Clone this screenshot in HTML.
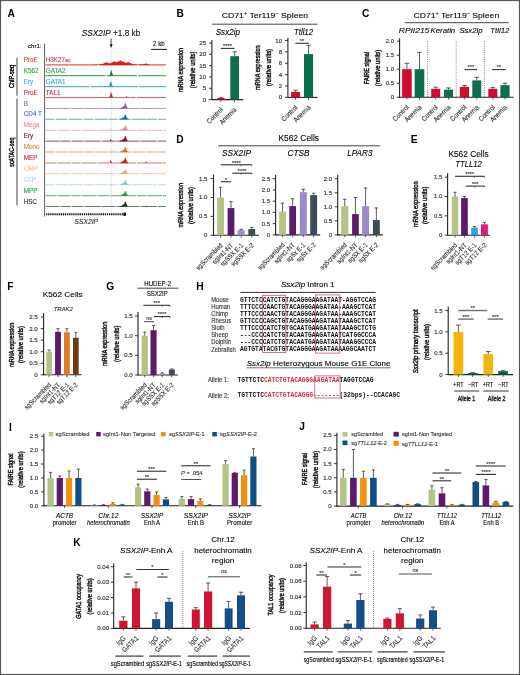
<!DOCTYPE html>
<html><head><meta charset="utf-8"><style>
html,body{margin:0;padding:0;background:#fff;}
svg{display:block;font-family:"Liberation Sans",sans-serif;filter:blur(0.35px);}
</style></head><body>
<svg width="520" height="675" viewBox="0 0 520 675">
<rect x="0" y="0" width="520" height="675" fill="#fff"/>
<text x="7.50" y="17.00" font-weight="bold" fill="#000" font-size="10.2" >A</text>
<text x="81.80" y="36.00" stroke="#111" stroke-width="0.12" fill="#111" font-size="8.2" textLength="58.50" lengthAdjust="spacingAndGlyphs" ><tspan font-style="italic">SSX2IP</tspan> +1.8 kb</text>
<line x1="111.10" y1="38.50" x2="111.10" y2="45.50" stroke="#111" stroke-width="0.8" />
<polygon points="109.6,44.3 112.6,44.3 111.1,48" fill="#111"/>
<text x="153.00" y="46.30" stroke="#111" stroke-width="0.12" fill="#111" font-size="6.4" textLength="11.70" lengthAdjust="spacingAndGlyphs" >2 kb</text>
<line x1="151.00" y1="49.40" x2="167.00" y2="49.40" stroke="#111" stroke-width="1.0" />
<text x="28.00" y="48.46" stroke="#222" stroke-width="0.12" font-size="6.0" textLength="13.50" lengthAdjust="spacingAndGlyphs" >chr1:</text>
<line x1="44.60" y1="43.50" x2="44.60" y2="216.50" stroke="#333" stroke-width="0.8" />
<line x1="17.00" y1="57.70" x2="17.00" y2="95.70" stroke="#777" stroke-width="1.4" />
<line x1="17.00" y1="98.40" x2="17.00" y2="205.20" stroke="#777" stroke-width="1.4" />
<text x="0" y="0" stroke="#111" stroke-width="0.45" text-anchor="middle" fill="#111" font-size="7.6" textLength="23.00" lengthAdjust="spacingAndGlyphs" transform="translate(13.70,76.50) rotate(-90)" >ChIP-seq</text>
<text x="0" y="0" stroke="#111" stroke-width="0.45" text-anchor="middle" fill="#111" font-size="7.6" textLength="29.10" lengthAdjust="spacingAndGlyphs" transform="translate(14.40,152.20) rotate(-90)" >scATAC-seq</text>
<text x="23.80" y="61.90" stroke="#d6383a" stroke-width="0.12" fill="#d6383a" font-size="6.3" >ProE</text>
<text x="45.80" y="62.10" stroke="#d6383a" stroke-width="0.12" fill="#d6383a" font-size="6.3" >H3K27<tspan font-size="5.2">ac</tspan></text>
<line x1="45.50" y1="64.80" x2="166.00" y2="64.80" stroke="#d8201e" stroke-width="1.2" stroke-dasharray="52 1.6 38 1.4 40" opacity="0.75"/>
<text x="23.80" y="72.80" stroke="#3a9a4a" stroke-width="0.12" fill="#3a9a4a" font-size="6.3" >K562</text>
<text x="45.80" y="73.00" stroke="#3a9a4a" stroke-width="0.12" fill="#3a9a4a" font-size="6.3" >GATA2</text>
<line x1="45.50" y1="75.70" x2="166.00" y2="75.70" stroke="#1e8e3e" stroke-width="1.2" stroke-dasharray="60 1.4 30 1.3 40" opacity="0.75"/>
<text x="23.80" y="83.70" stroke="#35a8dc" stroke-width="0.12" fill="#35a8dc" font-size="6.3" >Ery</text>
<text x="45.80" y="83.90" stroke="#35a8dc" stroke-width="0.12" fill="#35a8dc" font-size="6.3" >GATA1</text>
<line x1="45.50" y1="86.60" x2="166.00" y2="86.60" stroke="#22a0d4" stroke-width="1.2" stroke-dasharray="44 1.5 47 1.2 40" opacity="0.75"/>
<text x="23.80" y="94.60" stroke="#c8323a" stroke-width="0.12" fill="#c8323a" font-size="6.3" >ProE</text>
<text x="45.80" y="94.80" stroke="#c8323a" stroke-width="0.12" fill="#c8323a" font-size="6.3" >TAL1</text>
<line x1="45.50" y1="97.50" x2="166.00" y2="97.50" stroke="#cc2a30" stroke-width="1.2" stroke-dasharray="90 1.4 40" opacity="0.75"/>
<text x="23.80" y="105.50" stroke="#8a6a8e" stroke-width="0.12" fill="#8a6a8e" font-size="6.3" >B</text>
<line x1="45.50" y1="108.40" x2="166.00" y2="108.40" stroke="#9060a4" stroke-width="1.05" stroke-dasharray="14 0.9 10 1.2 12 1.0 16 1.1" opacity="0.65"/>
<text x="23.80" y="116.40" stroke="#2a7ab4" stroke-width="0.12" fill="#2a7ab4" font-size="6.3" >CD4 T</text>
<line x1="45.50" y1="119.30" x2="166.00" y2="119.30" stroke="#1a70b8" stroke-width="1.05" stroke-dasharray="9 1.1 12 0.9 14 1.2 10 1.0 13 1.1" opacity="0.65"/>
<text x="23.80" y="127.30" stroke="#e88aa6" stroke-width="0.12" fill="#e88aa6" font-size="6.3" >Mega</text>
<line x1="45.50" y1="130.20" x2="166.00" y2="130.20" stroke="#e28aa8" stroke-width="1.05" stroke-dasharray="11 1.1 13 1.0 9 1.2 15 0.9 12 1.1" opacity="0.65"/>
<text x="23.80" y="138.20" stroke="#5a2238" stroke-width="0.12" fill="#5a2238" font-size="6.3" >Ery</text>
<line x1="45.50" y1="141.10" x2="166.00" y2="141.10" stroke="#8a1040" stroke-width="1.05" stroke-dasharray="14 0.9 10 1.2 12 1.0 16 1.1" opacity="0.65"/>
<text x="23.80" y="149.10" stroke="#e8883a" stroke-width="0.12" fill="#e8883a" font-size="6.3" >Mono</text>
<line x1="45.50" y1="152.00" x2="166.00" y2="152.00" stroke="#e07020" stroke-width="1.05" stroke-dasharray="9 1.1 12 0.9 14 1.2 10 1.0 13 1.1" opacity="0.65"/>
<text x="23.80" y="160.00" stroke="#d8283a" stroke-width="0.12" fill="#d8283a" font-size="6.3" >MEP</text>
<line x1="45.50" y1="162.90" x2="166.00" y2="162.90" stroke="#d82020" stroke-width="1.05" stroke-dasharray="11 1.1 13 1.0 9 1.2 15 0.9 12 1.1" opacity="0.65"/>
<text x="23.80" y="170.90" stroke="#f2c09a" stroke-width="0.12" fill="#f2c09a" font-size="6.3" >CMP</text>
<line x1="45.50" y1="173.80" x2="166.00" y2="173.80" stroke="#f0a868" stroke-width="1.05" stroke-dasharray="14 0.9 10 1.2 12 1.0 16 1.1" opacity="0.65"/>
<text x="23.80" y="181.80" stroke="#a6d2e0" stroke-width="0.12" fill="#a6d2e0" font-size="6.3" >CLP</text>
<line x1="45.50" y1="184.70" x2="166.00" y2="184.70" stroke="#8ec6d8" stroke-width="1.05" stroke-dasharray="9 1.1 12 0.9 14 1.2 10 1.0 13 1.1" opacity="0.65"/>
<text x="23.80" y="192.70" stroke="#2a9a4a" stroke-width="0.12" fill="#2a9a4a" font-size="6.3" >MPP</text>
<line x1="45.50" y1="195.60" x2="166.00" y2="195.60" stroke="#1e9a46" stroke-width="1.05" stroke-dasharray="11 1.1 13 1.0 9 1.2 15 0.9 12 1.1" opacity="0.65"/>
<text x="23.80" y="203.60" stroke="#26342a" stroke-width="0.12" fill="#26342a" font-size="6.3" >HSC</text>
<line x1="45.50" y1="206.50" x2="166.00" y2="206.50" stroke="#123a22" stroke-width="1.05" stroke-dasharray="14 0.9 10 1.2 12 1.0 16 1.1" opacity="0.65"/>
<polygon points="93.00,65.10 93.00,64.80 98.00,64.60 101.00,64.20 103.00,63.80 104.50,63.10 106.60,61.90 108.00,62.90 109.50,63.60 111.00,63.10 112.50,62.30 113.50,61.70 114.70,61.20 116.00,62.30 117.50,61.90 119.00,61.10 120.50,60.20 121.80,61.50 123.40,61.40 125.00,62.60 126.50,62.70 128.50,61.90 130.00,63.10 132.00,63.80 134.00,64.20 136.00,64.50 140.00,64.60 143.00,64.30 146.10,63.50 148.00,64.30 149.70,64.80 149.70,65.10" fill="#d8201e"/>
<polygon points="109.00,75.70 109.87,74.56 110.43,72.58 110.95,70.50 111.58,70.50 112.17,72.84 112.80,74.76 113.60,75.70" fill="#0e7a3a" opacity="1.00"/>
<polygon points="108.50,86.60 109.41,85.46 109.99,83.48 110.54,81.40 111.19,81.40 111.81,83.74 112.46,85.66 113.30,86.60" fill="#1aa0b4" opacity="1.00"/>
<polygon points="108.90,97.50 109.77,96.40 110.33,94.50 110.86,92.50 111.48,92.50 112.07,94.75 112.70,96.60 113.50,97.50" fill="#d01e2a" opacity="1.00"/>
<polygon points="125.10,97.50 125.67,97.21 126.03,96.72 126.38,96.20 126.78,96.20 127.17,96.78 127.57,97.27 128.10,97.50" fill="#d01e2a" opacity="1.00"/>
<line x1="111.20" y1="49.00" x2="111.20" y2="213.00" stroke="#6a7ad0" stroke-width="0.5" stroke-dasharray="1 0.8" opacity="0.7"/>
<polygon points="119.20,108.70 120.90,107.92 122.40,106.88 123.40,106.20 124.30,105.58 124.90,103.50 125.80,103.50 126.30,105.58 127.00,106.88 128.40,108.70" fill="#9060a4"/>
<polygon points="144.40,108.40 145.08,108.33 145.52,108.22 145.93,108.10 146.42,108.10 146.88,108.23 147.37,108.35 148.00,108.40" fill="#9060a4" opacity="0.80"/>
<polygon points="119.20,119.60 120.90,118.85 122.40,117.85 123.40,117.20 124.30,116.60 124.90,114.60 125.80,114.60 126.30,116.60 127.00,117.85 128.40,119.60" fill="#1a70b8"/>
<polygon points="144.40,119.30 145.08,119.17 145.52,118.94 145.93,118.70 146.42,118.70 146.88,118.97 147.37,119.19 148.00,119.30" fill="#1a70b8" opacity="0.80"/>
<polygon points="119.20,130.50 120.90,129.75 122.40,128.75 123.40,128.10 124.30,127.50 124.90,125.50 125.80,125.50 126.30,127.50 127.00,128.75 128.40,130.50" fill="#e28aa8"/>
<polygon points="109.60,130.20 110.06,129.98 110.34,129.60 110.62,129.20 110.94,129.20 111.26,129.65 111.58,130.02 112.00,130.20" fill="#e28aa8" opacity="1.00"/>
<polygon points="119.20,141.40 120.90,140.62 122.40,139.58 123.40,138.90 124.30,138.28 124.90,136.20 125.80,136.20 126.30,138.28 127.00,139.58 128.40,141.40" fill="#8a1040"/>
<polygon points="109.60,141.10 110.06,140.66 110.34,139.90 110.62,139.10 110.94,139.10 111.26,140.00 111.58,140.74 112.00,141.10" fill="#8a1040" opacity="1.00"/>
<polygon points="119.20,152.30 120.90,151.55 122.40,150.55 123.40,149.90 124.30,149.30 124.90,147.30 125.80,147.30 126.30,149.30 127.00,150.55 128.40,152.30" fill="#e07020"/>
<polygon points="119.20,163.20 120.90,162.39 122.40,161.31 123.40,160.61 124.30,159.96 124.90,157.80 125.80,157.80 126.30,159.96 127.00,161.31 128.40,163.20" fill="#d82020"/>
<polygon points="109.60,162.90 110.06,162.24 110.34,161.10 110.62,159.90 110.94,159.90 111.26,161.25 111.58,162.36 112.00,162.90" fill="#d82020" opacity="1.00"/>
<polygon points="144.40,162.90 145.08,162.59 145.52,162.06 145.93,161.50 146.42,161.50 146.88,162.13 147.37,162.65 148.00,162.90" fill="#d82020" opacity="0.80"/>
<polygon points="119.20,174.10 120.90,173.38 122.40,172.42 123.40,171.80 124.30,171.22 124.90,169.30 125.80,169.30 126.30,171.22 127.00,172.42 128.40,174.10" fill="#f0a868"/>
<polygon points="109.60,173.80 110.06,173.62 110.34,173.32 110.62,173.00 110.94,173.00 111.26,173.36 111.58,173.66 112.00,173.80" fill="#f0a868" opacity="1.00"/>
<polygon points="144.40,173.80 145.08,173.62 145.52,173.32 145.93,173.00 146.42,173.00 146.88,173.36 147.37,173.66 148.00,173.80" fill="#f0a868" opacity="0.80"/>
<polygon points="119.20,185.00 120.90,184.28 122.40,183.32 123.40,182.70 124.30,182.12 124.90,180.20 125.80,180.20 126.30,182.12 127.00,183.32 128.40,185.00" fill="#8ec6d8"/>
<polygon points="144.40,184.70 145.08,184.52 145.52,184.22 145.93,183.90 146.42,183.90 146.88,184.26 147.37,184.56 148.00,184.70" fill="#8ec6d8" opacity="0.80"/>
<polygon points="119.20,195.90 120.90,195.21 122.40,194.29 123.40,193.69 124.30,193.14 124.90,191.30 125.80,191.30 126.30,193.14 127.00,194.29 128.40,195.90" fill="#1e9a46"/>
<polygon points="144.40,195.60 145.08,195.47 145.52,195.24 145.93,195.00 146.42,195.00 146.88,195.27 147.37,195.49 148.00,195.60" fill="#1e9a46" opacity="0.80"/>
<polygon points="119.20,206.80 120.90,206.05 122.40,205.05 123.40,204.40 124.30,203.80 124.90,201.80 125.80,201.80 126.30,203.80 127.00,205.05 128.40,206.80" fill="#123a22"/>
<polygon points="144.40,206.50 145.08,206.32 145.52,206.02 145.93,205.70 146.42,205.70 146.88,206.06 147.37,206.36 148.00,206.50" fill="#123a22" opacity="0.80"/>
<line x1="46.00" y1="214.30" x2="124.50" y2="214.30" stroke="#111" stroke-width="1.9" stroke-dasharray="1.3 0.8"/>
<rect x="123.5" y="212.6" width="2.4" height="3.4" fill="#111"/>
<text x="74.60" y="224.09" stroke="#333" stroke-width="0.12" font-style="italic" fill="#333" font-size="7.2" textLength="23.40" lengthAdjust="spacingAndGlyphs" >SSX2IP</text>
<text x="176.50" y="17.30" font-weight="bold" fill="#000" font-size="10.2" >B</text>
<text x="221.70" y="17.90" stroke="#222" stroke-width="0.12" font-size="8.0" textLength="86.50" lengthAdjust="spacingAndGlyphs" >CD71<tspan font-size="5" dy="-3">+</tspan><tspan dy="3"> Ter119</tspan><tspan font-size="5" dy="-3">−</tspan><tspan dy="3"> Spleen</tspan></text>
<line x1="212.20" y1="24.20" x2="317.30" y2="24.20" stroke="#444" stroke-width="1.0" />
<text x="215.70" y="34.95" stroke="#222" stroke-width="0.12" font-style="italic" font-size="8.2" textLength="24.30" lengthAdjust="spacingAndGlyphs" >Ssx2ip</text>
<text x="294.00" y="35.05" stroke="#222" stroke-width="0.12" font-style="italic" font-size="8.2" textLength="19.00" lengthAdjust="spacingAndGlyphs" >Ttll12</text>
<line x1="211.90" y1="40.00" x2="211.90" y2="100.10" stroke="#222" stroke-width="1.1" />
<line x1="209.00" y1="99.60" x2="211.90" y2="99.60" stroke="#222" stroke-width="0.9" />
<text x="206.10" y="101.65" stroke="#333" stroke-width="0.15" text-anchor="end" fill="#333" font-size="6.2" >0</text>
<line x1="209.00" y1="88.28" x2="211.90" y2="88.28" stroke="#222" stroke-width="0.9" />
<text x="206.10" y="90.33" stroke="#333" stroke-width="0.15" text-anchor="end" fill="#333" font-size="6.2" >5</text>
<line x1="209.00" y1="76.96" x2="211.90" y2="76.96" stroke="#222" stroke-width="0.9" />
<text x="206.10" y="79.01" stroke="#333" stroke-width="0.15" text-anchor="end" fill="#333" font-size="6.2" >10</text>
<line x1="209.00" y1="65.64" x2="211.90" y2="65.64" stroke="#222" stroke-width="0.9" />
<text x="206.10" y="67.69" stroke="#333" stroke-width="0.15" text-anchor="end" fill="#333" font-size="6.2" >15</text>
<line x1="209.00" y1="54.32" x2="211.90" y2="54.32" stroke="#222" stroke-width="0.9" />
<text x="206.10" y="56.37" stroke="#333" stroke-width="0.15" text-anchor="end" fill="#333" font-size="6.2" >20</text>
<line x1="209.00" y1="43.00" x2="211.90" y2="43.00" stroke="#222" stroke-width="0.9" />
<text x="206.10" y="45.05" stroke="#333" stroke-width="0.15" text-anchor="end" fill="#333" font-size="6.2" >25</text>
<line x1="211.90" y1="99.60" x2="243.30" y2="99.60" stroke="#222" stroke-width="1.1" />
<line x1="220.90" y1="99.60" x2="220.90" y2="101.90" stroke="#333" stroke-width="0.8" />
<line x1="234.40" y1="99.60" x2="234.40" y2="101.90" stroke="#333" stroke-width="0.8" />
<path d="M215.9,99.6 Q221,94.19999999999999 226,99.6 Z" fill="#d20a30"/>
<rect x="230.30" y="56.20" width="8.70" height="43.40" fill="#0b6e4f" />
<line x1="234.65" y1="51.80" x2="234.65" y2="56.20" stroke="#333" stroke-width="0.8" />
<line x1="232.48" y1="51.80" x2="236.82" y2="51.80" stroke="#333" stroke-width="0.8" />
<line x1="220.80" y1="48.40" x2="234.40" y2="48.40" stroke="#333" stroke-width="1.1" />
<text x="227.60" y="48.20" stroke="#333" stroke-width="0.12" text-anchor="middle" fill="#333" font-size="5.8" >****</text>
<text x="0" y="0" stroke="#222" stroke-width="0.45" text-anchor="middle" font-size="7.0" textLength="44.00" lengthAdjust="spacingAndGlyphs" transform="translate(183.00,70.00) rotate(-90)" >mRNA expression</text>
<text x="0" y="0" stroke="#222" stroke-width="0.45" text-anchor="middle" font-size="7.0" textLength="36.50" lengthAdjust="spacingAndGlyphs" transform="translate(194.60,69.90) rotate(-90)" >(relative units)</text>
<text x="0" y="0" stroke="#333" stroke-width="0.12" text-anchor="end" fill="#333" font-size="6.944000000000001" textLength="19.99" lengthAdjust="spacingAndGlyphs" transform="translate(223.50,110.10) rotate(-45)" >Control</text>
<text x="0" y="0" stroke="#333" stroke-width="0.12" text-anchor="end" fill="#333" font-size="6.944000000000001" textLength="21.02" lengthAdjust="spacingAndGlyphs" transform="translate(237.00,110.10) rotate(-45)" >Anemia</text>
<line x1="287.90" y1="37.80" x2="287.90" y2="97.90" stroke="#222" stroke-width="1.1" />
<line x1="285.00" y1="97.40" x2="287.90" y2="97.40" stroke="#222" stroke-width="0.9" />
<text x="282.10" y="99.45" stroke="#333" stroke-width="0.15" text-anchor="end" fill="#333" font-size="6.2" >0</text>
<line x1="285.00" y1="86.02" x2="287.90" y2="86.02" stroke="#222" stroke-width="0.9" />
<text x="282.10" y="88.07" stroke="#333" stroke-width="0.15" text-anchor="end" fill="#333" font-size="6.2" >2</text>
<line x1="285.00" y1="74.64" x2="287.90" y2="74.64" stroke="#222" stroke-width="0.9" />
<text x="282.10" y="76.69" stroke="#333" stroke-width="0.15" text-anchor="end" fill="#333" font-size="6.2" >4</text>
<line x1="285.00" y1="63.26" x2="287.90" y2="63.26" stroke="#222" stroke-width="0.9" />
<text x="282.10" y="65.31" stroke="#333" stroke-width="0.15" text-anchor="end" fill="#333" font-size="6.2" >6</text>
<line x1="285.00" y1="51.88" x2="287.90" y2="51.88" stroke="#222" stroke-width="0.9" />
<text x="282.10" y="53.93" stroke="#333" stroke-width="0.15" text-anchor="end" fill="#333" font-size="6.2" >8</text>
<line x1="285.00" y1="40.50" x2="287.90" y2="40.50" stroke="#222" stroke-width="0.9" />
<text x="282.10" y="42.55" stroke="#333" stroke-width="0.15" text-anchor="end" fill="#333" font-size="6.2" >10</text>
<line x1="287.90" y1="97.40" x2="317.50" y2="97.40" stroke="#222" stroke-width="1.1" />
<line x1="295.50" y1="97.40" x2="295.50" y2="99.70" stroke="#333" stroke-width="0.8" />
<line x1="308.50" y1="97.40" x2="308.50" y2="99.70" stroke="#333" stroke-width="0.8" />
<rect x="291.10" y="91.90" width="8.90" height="5.50" fill="#d20a30" />
<line x1="295.55" y1="90.20" x2="295.55" y2="91.90" stroke="#333" stroke-width="0.8" />
<line x1="293.33" y1="90.20" x2="297.77" y2="90.20" stroke="#333" stroke-width="0.8" />
<rect x="304.00" y="54.10" width="9.10" height="43.30" fill="#0b6e4f" />
<line x1="308.55" y1="45.30" x2="308.55" y2="54.10" stroke="#333" stroke-width="0.8" />
<line x1="306.27" y1="45.30" x2="310.83" y2="45.30" stroke="#333" stroke-width="0.8" />
<line x1="295.40" y1="43.30" x2="308.80" y2="43.30" stroke="#333" stroke-width="1.1" />
<text x="302.10" y="43.10" stroke="#333" stroke-width="0.12" text-anchor="middle" fill="#333" font-size="5.8" >**</text>
<text x="0" y="0" stroke="#222" stroke-width="0.45" text-anchor="middle" font-size="7.0" textLength="44.80" lengthAdjust="spacingAndGlyphs" transform="translate(259.50,67.70) rotate(-90)" >mRNA expression</text>
<text x="0" y="0" stroke="#222" stroke-width="0.45" text-anchor="middle" font-size="7.0" textLength="37.20" lengthAdjust="spacingAndGlyphs" transform="translate(271.40,67.50) rotate(-90)" >(relative units)</text>
<text x="0" y="0" stroke="#333" stroke-width="0.12" text-anchor="end" fill="#333" font-size="6.944000000000001" textLength="19.99" lengthAdjust="spacingAndGlyphs" transform="translate(298.10,107.90) rotate(-45)" >Control</text>
<text x="0" y="0" stroke="#333" stroke-width="0.12" text-anchor="end" fill="#333" font-size="6.944000000000001" textLength="21.02" lengthAdjust="spacingAndGlyphs" transform="translate(311.10,107.90) rotate(-45)" >Anemia</text>
<text x="362.00" y="17.30" font-weight="bold" fill="#000" font-size="10.2" >C</text>
<text x="413.50" y="17.50" stroke="#222" stroke-width="0.12" font-size="8.0" textLength="85.70" lengthAdjust="spacingAndGlyphs" >CD71<tspan font-size="5" dy="-3">+</tspan><tspan dy="3"> Ter119</tspan><tspan font-size="5" dy="-3">−</tspan><tspan dy="3"> Spleen</tspan></text>
<line x1="404.90" y1="22.70" x2="508.80" y2="22.70" stroke="#444" stroke-width="1.0" />
<text x="398.80" y="33.48" stroke="#222" stroke-width="0.12" font-style="italic" font-size="8.0" textLength="30.50" lengthAdjust="spacingAndGlyphs" >RPII215</text>
<text x="430.60" y="33.48" stroke="#222" stroke-width="0.12" font-style="italic" font-size="8.0" textLength="24.60" lengthAdjust="spacingAndGlyphs" >Keratin</text>
<text x="459.40" y="33.48" stroke="#222" stroke-width="0.12" font-style="italic" font-size="8.0" textLength="23.10" lengthAdjust="spacingAndGlyphs" >Ssx2ip</text>
<text x="490.20" y="33.48" stroke="#222" stroke-width="0.12" font-style="italic" font-size="8.0" textLength="19.20" lengthAdjust="spacingAndGlyphs" >Ttll12</text>
<line x1="399.60" y1="38.20" x2="399.60" y2="97.70" stroke="#222" stroke-width="1.1" />
<line x1="396.70" y1="97.20" x2="399.60" y2="97.20" stroke="#222" stroke-width="0.9" />
<text x="394.10" y="99.18" stroke="#333" stroke-width="0.15" text-anchor="end" fill="#333" font-size="6.0" >0</text>
<line x1="396.70" y1="83.20" x2="399.60" y2="83.20" stroke="#222" stroke-width="0.9" />
<text x="394.10" y="85.18" stroke="#333" stroke-width="0.15" text-anchor="end" fill="#333" font-size="6.0" >0.5</text>
<line x1="396.70" y1="69.20" x2="399.60" y2="69.20" stroke="#222" stroke-width="0.9" />
<text x="394.10" y="71.18" stroke="#333" stroke-width="0.15" text-anchor="end" fill="#333" font-size="6.0" >1.0</text>
<line x1="396.70" y1="55.20" x2="399.60" y2="55.20" stroke="#222" stroke-width="0.9" />
<text x="394.10" y="57.18" stroke="#333" stroke-width="0.15" text-anchor="end" fill="#333" font-size="6.0" >1.5</text>
<line x1="396.70" y1="41.20" x2="399.60" y2="41.20" stroke="#222" stroke-width="0.9" />
<text x="394.10" y="43.18" stroke="#333" stroke-width="0.15" text-anchor="end" fill="#333" font-size="6.0" >2.0</text>
<line x1="399.60" y1="97.20" x2="513.50" y2="97.20" stroke="#222" stroke-width="1.1" />
<line x1="427.60" y1="41.30" x2="427.60" y2="97.20" stroke="#555" stroke-width="0.8" stroke-dasharray="0.9 1.3"/>
<line x1="456.20" y1="41.30" x2="456.20" y2="97.20" stroke="#555" stroke-width="0.8" stroke-dasharray="0.9 1.3"/>
<line x1="484.40" y1="41.30" x2="484.40" y2="97.20" stroke="#555" stroke-width="0.8" stroke-dasharray="0.9 1.3"/>
<rect x="402.10" y="69.20" width="9.60" height="28.00" fill="#d20a30" />
<line x1="406.90" y1="63.32" x2="406.90" y2="69.20" stroke="#333" stroke-width="0.8" />
<line x1="404.50" y1="63.32" x2="409.30" y2="63.32" stroke="#333" stroke-width="0.8" />
<line x1="406.90" y1="97.20" x2="406.90" y2="99.50" stroke="#333" stroke-width="0.8" />
<rect x="414.70" y="69.20" width="9.60" height="28.00" fill="#0b6e4f" />
<line x1="419.50" y1="52.40" x2="419.50" y2="69.20" stroke="#333" stroke-width="0.8" />
<line x1="417.10" y1="52.40" x2="421.90" y2="52.40" stroke="#333" stroke-width="0.8" />
<line x1="419.50" y1="97.20" x2="419.50" y2="99.50" stroke="#333" stroke-width="0.8" />
<text x="0" y="0" stroke="#333" stroke-width="0.12" text-anchor="end" fill="#333" font-size="6.944000000000001" textLength="19.99" lengthAdjust="spacingAndGlyphs" transform="translate(409.50,107.70) rotate(-45)" >Control</text>
<text x="0" y="0" stroke="#333" stroke-width="0.12" text-anchor="end" fill="#333" font-size="6.944000000000001" textLength="21.02" lengthAdjust="spacingAndGlyphs" transform="translate(422.10,107.70) rotate(-45)" >Anemia</text>
<rect x="431.20" y="88.80" width="9.00" height="8.40" fill="#d20a30" />
<line x1="435.70" y1="87.12" x2="435.70" y2="88.80" stroke="#333" stroke-width="0.8" />
<line x1="433.45" y1="87.12" x2="437.95" y2="87.12" stroke="#333" stroke-width="0.8" />
<line x1="435.70" y1="97.20" x2="435.70" y2="99.50" stroke="#333" stroke-width="0.8" />
<rect x="444.00" y="89.64" width="9.00" height="7.56" fill="#0b6e4f" />
<line x1="448.50" y1="87.96" x2="448.50" y2="89.64" stroke="#333" stroke-width="0.8" />
<line x1="446.25" y1="87.96" x2="450.75" y2="87.96" stroke="#333" stroke-width="0.8" />
<line x1="448.50" y1="97.20" x2="448.50" y2="99.50" stroke="#333" stroke-width="0.8" />
<text x="0" y="0" stroke="#333" stroke-width="0.12" text-anchor="end" fill="#333" font-size="6.944000000000001" textLength="19.99" lengthAdjust="spacingAndGlyphs" transform="translate(438.30,107.70) rotate(-45)" >Control</text>
<text x="0" y="0" stroke="#333" stroke-width="0.12" text-anchor="end" fill="#333" font-size="6.944000000000001" textLength="21.02" lengthAdjust="spacingAndGlyphs" transform="translate(451.10,107.70) rotate(-45)" >Anemia</text>
<rect x="459.80" y="86.84" width="9.20" height="10.36" fill="#d20a30" />
<line x1="464.40" y1="85.44" x2="464.40" y2="86.84" stroke="#333" stroke-width="0.8" />
<line x1="462.10" y1="85.44" x2="466.70" y2="85.44" stroke="#333" stroke-width="0.8" />
<line x1="464.40" y1="97.20" x2="464.40" y2="99.50" stroke="#333" stroke-width="0.8" />
<rect x="472.30" y="80.40" width="8.90" height="16.80" fill="#0b6e4f" />
<line x1="476.75" y1="77.32" x2="476.75" y2="80.40" stroke="#333" stroke-width="0.8" />
<line x1="474.52" y1="77.32" x2="478.98" y2="77.32" stroke="#333" stroke-width="0.8" />
<line x1="476.75" y1="97.20" x2="476.75" y2="99.50" stroke="#333" stroke-width="0.8" />
<text x="0" y="0" stroke="#333" stroke-width="0.12" text-anchor="end" fill="#333" font-size="6.944000000000001" textLength="19.99" lengthAdjust="spacingAndGlyphs" transform="translate(467.00,107.70) rotate(-45)" >Control</text>
<text x="0" y="0" stroke="#333" stroke-width="0.12" text-anchor="end" fill="#333" font-size="6.944000000000001" textLength="21.02" lengthAdjust="spacingAndGlyphs" transform="translate(479.35,107.70) rotate(-45)" >Anemia</text>
<rect x="488.30" y="88.80" width="9.00" height="8.40" fill="#d20a30" />
<line x1="492.80" y1="87.40" x2="492.80" y2="88.80" stroke="#333" stroke-width="0.8" />
<line x1="490.55" y1="87.40" x2="495.05" y2="87.40" stroke="#333" stroke-width="0.8" />
<line x1="492.80" y1="97.20" x2="492.80" y2="99.50" stroke="#333" stroke-width="0.8" />
<rect x="500.40" y="85.16" width="9.20" height="12.04" fill="#0b6e4f" />
<line x1="505.00" y1="83.20" x2="505.00" y2="85.16" stroke="#333" stroke-width="0.8" />
<line x1="502.70" y1="83.20" x2="507.30" y2="83.20" stroke="#333" stroke-width="0.8" />
<line x1="505.00" y1="97.20" x2="505.00" y2="99.50" stroke="#333" stroke-width="0.8" />
<text x="0" y="0" stroke="#333" stroke-width="0.12" text-anchor="end" fill="#333" font-size="6.944000000000001" textLength="19.99" lengthAdjust="spacingAndGlyphs" transform="translate(495.40,107.70) rotate(-45)" >Control</text>
<text x="0" y="0" stroke="#333" stroke-width="0.12" text-anchor="end" fill="#333" font-size="6.944000000000001" textLength="21.02" lengthAdjust="spacingAndGlyphs" transform="translate(507.60,107.70) rotate(-45)" >Anemia</text>
<line x1="464.60" y1="69.60" x2="477.00" y2="69.60" stroke="#333" stroke-width="1.1" />
<text x="470.80" y="69.40" stroke="#333" stroke-width="0.12" text-anchor="middle" fill="#333" font-size="5.8" >***</text>
<line x1="492.00" y1="69.60" x2="505.60" y2="69.60" stroke="#333" stroke-width="1.1" />
<text x="498.80" y="69.40" stroke="#333" stroke-width="0.12" text-anchor="middle" fill="#333" font-size="5.8" >**</text>
<text x="0" y="0" stroke="#222" stroke-width="0.45" text-anchor="middle" font-size="7.0" textLength="32.00" lengthAdjust="spacingAndGlyphs" transform="translate(369.00,68.00) rotate(-90)" >FAIRE signal</text>
<text x="0" y="0" stroke="#222" stroke-width="0.45" text-anchor="middle" font-size="7.0" textLength="36.30" lengthAdjust="spacingAndGlyphs" transform="translate(380.30,68.00) rotate(-90)" >(relative units)</text>
<text x="176.20" y="143.20" font-weight="bold" fill="#000" font-size="10.2" >D</text>
<text x="278.40" y="140.99" stroke="#222" stroke-width="0.12" font-size="8.3" textLength="40.60" lengthAdjust="spacingAndGlyphs" >K562 Cells</text>
<line x1="218.30" y1="145.80" x2="380.20" y2="145.80" stroke="#444" stroke-width="1.0" />
<text x="222.00" y="155.95" stroke="#222" stroke-width="0.12" font-style="italic" font-size="8.2" textLength="29.00" lengthAdjust="spacingAndGlyphs" >SSX2IP</text>
<text x="287.50" y="156.45" stroke="#222" stroke-width="0.12" font-style="italic" font-size="8.2" textLength="22.00" lengthAdjust="spacingAndGlyphs" >CTSB</text>
<text x="347.30" y="156.45" stroke="#222" stroke-width="0.12" font-style="italic" font-size="8.2" textLength="25.10" lengthAdjust="spacingAndGlyphs" >LPAR3</text>
<line x1="213.50" y1="174.60" x2="213.50" y2="235.80" stroke="#222" stroke-width="1.1" />
<line x1="210.60" y1="235.30" x2="213.50" y2="235.30" stroke="#222" stroke-width="0.9" />
<text x="207.30" y="237.28" stroke="#333" stroke-width="0.15" text-anchor="end" fill="#333" font-size="6.0" >0</text>
<line x1="210.60" y1="216.40" x2="213.50" y2="216.40" stroke="#222" stroke-width="0.9" />
<text x="207.30" y="218.38" stroke="#333" stroke-width="0.15" text-anchor="end" fill="#333" font-size="6.0" >0.5</text>
<line x1="210.60" y1="197.50" x2="213.50" y2="197.50" stroke="#222" stroke-width="0.9" />
<text x="207.30" y="199.48" stroke="#333" stroke-width="0.15" text-anchor="end" fill="#333" font-size="6.0" >1.0</text>
<line x1="210.60" y1="178.60" x2="213.50" y2="178.60" stroke="#222" stroke-width="0.9" />
<text x="207.30" y="180.58" stroke="#333" stroke-width="0.15" text-anchor="end" fill="#333" font-size="6.0" >1.5</text>
<line x1="213.50" y1="235.30" x2="259.00" y2="235.30" stroke="#222" stroke-width="1.1" />
<rect x="217.10" y="197.50" width="6.90" height="37.80" fill="#b4c487" />
<line x1="220.55" y1="187.29" x2="220.55" y2="197.50" stroke="#333" stroke-width="0.8" />
<line x1="218.83" y1="187.29" x2="222.28" y2="187.29" stroke="#333" stroke-width="0.8" />
<line x1="220.55" y1="235.30" x2="220.55" y2="237.60" stroke="#333" stroke-width="0.8" />
<text x="0" y="0" stroke="#333" stroke-width="0.12" text-anchor="end" fill="#333" font-size="6.720000000000001" textLength="35.01" lengthAdjust="spacingAndGlyphs" transform="translate(223.15,245.80) rotate(-45)" >sgScrambled</text>
<rect x="227.60" y="208.08" width="6.80" height="27.22" fill="#5c1a6b" />
<line x1="231.00" y1="201.66" x2="231.00" y2="208.08" stroke="#333" stroke-width="0.8" />
<line x1="229.30" y1="201.66" x2="232.70" y2="201.66" stroke="#333" stroke-width="0.8" />
<line x1="231.00" y1="235.30" x2="231.00" y2="237.60" stroke="#333" stroke-width="0.8" />
<text x="0" y="0" stroke="#333" stroke-width="0.12" text-anchor="end" fill="#333" font-size="6.720000000000001" textLength="26.34" lengthAdjust="spacingAndGlyphs" transform="translate(233.60,245.80) rotate(-45)" >sgInt1-NT</text>
<rect x="237.60" y="230.20" width="7.10" height="5.10" fill="#9a8cc6" />
<line x1="241.15" y1="229.25" x2="241.15" y2="230.20" stroke="#333" stroke-width="0.8" />
<line x1="239.37" y1="229.25" x2="242.92" y2="229.25" stroke="#333" stroke-width="0.8" />
<line x1="241.15" y1="235.30" x2="241.15" y2="237.60" stroke="#333" stroke-width="0.8" />
<text x="0" y="0" stroke="#333" stroke-width="0.12" text-anchor="end" fill="#333" font-size="6.720000000000001" textLength="29.35" lengthAdjust="spacingAndGlyphs" transform="translate(243.75,245.80) rotate(-45)" >sgSSX E-1</text>
<rect x="248.30" y="229.06" width="6.90" height="6.24" fill="#3d4b5b" />
<line x1="251.75" y1="227.36" x2="251.75" y2="229.06" stroke="#333" stroke-width="0.8" />
<line x1="250.03" y1="227.36" x2="253.47" y2="227.36" stroke="#333" stroke-width="0.8" />
<line x1="251.75" y1="235.30" x2="251.75" y2="237.60" stroke="#333" stroke-width="0.8" />
<text x="0" y="0" stroke="#333" stroke-width="0.12" text-anchor="end" fill="#333" font-size="6.720000000000001" textLength="29.35" lengthAdjust="spacingAndGlyphs" transform="translate(254.35,245.80) rotate(-45)" >sgSSX E-2</text>
<line x1="220.80" y1="164.80" x2="251.80" y2="164.80" stroke="#333" stroke-width="1.1" />
<text x="236.30" y="164.60" stroke="#333" stroke-width="0.12" text-anchor="middle" fill="#333" font-size="5.8" >****</text>
<line x1="232.30" y1="173.20" x2="251.80" y2="173.20" stroke="#333" stroke-width="1.1" />
<text x="242.05" y="173.00" stroke="#333" stroke-width="0.12" text-anchor="middle" fill="#333" font-size="5.8" >****</text>
<line x1="221.00" y1="181.70" x2="231.10" y2="181.70" stroke="#333" stroke-width="1.1" />
<text x="226.05" y="181.50" stroke="#333" stroke-width="0.12" text-anchor="middle" fill="#333" font-size="5.8" >*</text>
<line x1="241.10" y1="164.80" x2="241.10" y2="166.20" stroke="#444" stroke-width="0.8" />
<line x1="251.80" y1="164.80" x2="251.80" y2="166.20" stroke="#444" stroke-width="0.8" />
<line x1="241.10" y1="173.20" x2="241.10" y2="174.60" stroke="#444" stroke-width="0.8" />
<line x1="251.80" y1="173.20" x2="251.80" y2="174.60" stroke="#444" stroke-width="0.8" />
<line x1="275.60" y1="174.65" x2="275.60" y2="235.40" stroke="#222" stroke-width="1.1" />
<line x1="272.70" y1="234.90" x2="275.60" y2="234.90" stroke="#222" stroke-width="0.9" />
<text x="270.00" y="236.88" stroke="#333" stroke-width="0.15" text-anchor="end" fill="#333" font-size="6.0" >0</text>
<line x1="272.70" y1="223.65" x2="275.60" y2="223.65" stroke="#222" stroke-width="0.9" />
<text x="270.00" y="225.63" stroke="#333" stroke-width="0.15" text-anchor="end" fill="#333" font-size="6.0" >0.5</text>
<line x1="272.70" y1="212.40" x2="275.60" y2="212.40" stroke="#222" stroke-width="0.9" />
<text x="270.00" y="214.38" stroke="#333" stroke-width="0.15" text-anchor="end" fill="#333" font-size="6.0" >1.0</text>
<line x1="272.70" y1="201.15" x2="275.60" y2="201.15" stroke="#222" stroke-width="0.9" />
<text x="270.00" y="203.13" stroke="#333" stroke-width="0.15" text-anchor="end" fill="#333" font-size="6.0" >1.5</text>
<line x1="272.70" y1="189.90" x2="275.60" y2="189.90" stroke="#222" stroke-width="0.9" />
<text x="270.00" y="191.88" stroke="#333" stroke-width="0.15" text-anchor="end" fill="#333" font-size="6.0" >2.0</text>
<line x1="272.70" y1="178.65" x2="275.60" y2="178.65" stroke="#222" stroke-width="0.9" />
<text x="270.00" y="180.63" stroke="#333" stroke-width="0.15" text-anchor="end" fill="#333" font-size="6.0" >2.5</text>
<line x1="275.60" y1="234.90" x2="320.20" y2="234.90" stroke="#222" stroke-width="1.1" />
<rect x="279.10" y="211.50" width="6.90" height="23.40" fill="#b4c487" />
<line x1="282.55" y1="203.18" x2="282.55" y2="211.50" stroke="#333" stroke-width="0.8" />
<line x1="280.83" y1="203.18" x2="284.27" y2="203.18" stroke="#333" stroke-width="0.8" />
<line x1="282.55" y1="234.90" x2="282.55" y2="237.20" stroke="#333" stroke-width="0.8" />
<text x="0" y="0" stroke="#333" stroke-width="0.12" text-anchor="end" fill="#333" font-size="6.720000000000001" textLength="35.01" lengthAdjust="spacingAndGlyphs" transform="translate(285.15,245.40) rotate(-45)" >sgScrambled</text>
<rect x="289.30" y="206.10" width="6.70" height="28.80" fill="#5c1a6b" />
<line x1="292.65" y1="198.68" x2="292.65" y2="206.10" stroke="#333" stroke-width="0.8" />
<line x1="290.97" y1="198.68" x2="294.32" y2="198.68" stroke="#333" stroke-width="0.8" />
<line x1="292.65" y1="234.90" x2="292.65" y2="237.20" stroke="#333" stroke-width="0.8" />
<text x="0" y="0" stroke="#333" stroke-width="0.12" text-anchor="end" fill="#333" font-size="6.720000000000001" textLength="26.34" lengthAdjust="spacingAndGlyphs" transform="translate(295.25,245.40) rotate(-45)" >sgInt1-NT</text>
<rect x="299.80" y="192.15" width="7.00" height="42.75" fill="#9a8cc6" />
<line x1="303.30" y1="189.23" x2="303.30" y2="192.15" stroke="#333" stroke-width="0.8" />
<line x1="301.55" y1="189.23" x2="305.05" y2="189.23" stroke="#333" stroke-width="0.8" />
<line x1="303.30" y1="234.90" x2="303.30" y2="237.20" stroke="#333" stroke-width="0.8" />
<text x="0" y="0" stroke="#333" stroke-width="0.12" text-anchor="end" fill="#333" font-size="6.720000000000001" textLength="24.34" lengthAdjust="spacingAndGlyphs" transform="translate(305.90,245.40) rotate(-45)" >sgSx E-1</text>
<rect x="310.20" y="195.07" width="6.90" height="39.83" fill="#3d4b5b" />
<line x1="313.65" y1="193.28" x2="313.65" y2="195.07" stroke="#333" stroke-width="0.8" />
<line x1="311.92" y1="193.28" x2="315.38" y2="193.28" stroke="#333" stroke-width="0.8" />
<line x1="313.65" y1="234.90" x2="313.65" y2="237.20" stroke="#333" stroke-width="0.8" />
<text x="0" y="0" stroke="#333" stroke-width="0.12" text-anchor="end" fill="#333" font-size="6.720000000000001" textLength="24.34" lengthAdjust="spacingAndGlyphs" transform="translate(316.25,245.40) rotate(-45)" >sgSx E-2</text>
<line x1="337.70" y1="174.70" x2="337.70" y2="235.40" stroke="#222" stroke-width="1.1" />
<line x1="334.80" y1="234.90" x2="337.70" y2="234.90" stroke="#222" stroke-width="0.9" />
<text x="332.10" y="236.88" stroke="#333" stroke-width="0.15" text-anchor="end" fill="#333" font-size="6.0" >0</text>
<line x1="334.80" y1="220.85" x2="337.70" y2="220.85" stroke="#222" stroke-width="0.9" />
<text x="332.10" y="222.83" stroke="#333" stroke-width="0.15" text-anchor="end" fill="#333" font-size="6.0" >0.5</text>
<line x1="334.80" y1="206.80" x2="337.70" y2="206.80" stroke="#222" stroke-width="0.9" />
<text x="332.10" y="208.78" stroke="#333" stroke-width="0.15" text-anchor="end" fill="#333" font-size="6.0" >1.0</text>
<line x1="334.80" y1="192.75" x2="337.70" y2="192.75" stroke="#222" stroke-width="0.9" />
<text x="332.10" y="194.73" stroke="#333" stroke-width="0.15" text-anchor="end" fill="#333" font-size="6.0" >1.5</text>
<line x1="334.80" y1="178.70" x2="337.70" y2="178.70" stroke="#222" stroke-width="0.9" />
<text x="332.10" y="180.68" stroke="#333" stroke-width="0.15" text-anchor="end" fill="#333" font-size="6.0" >2.0</text>
<line x1="337.70" y1="234.90" x2="382.70" y2="234.90" stroke="#222" stroke-width="1.1" />
<rect x="341.10" y="206.24" width="7.30" height="28.66" fill="#b4c487" />
<line x1="344.75" y1="199.21" x2="344.75" y2="206.24" stroke="#333" stroke-width="0.8" />
<line x1="342.93" y1="199.21" x2="346.57" y2="199.21" stroke="#333" stroke-width="0.8" />
<line x1="344.75" y1="234.90" x2="344.75" y2="237.20" stroke="#333" stroke-width="0.8" />
<text x="0" y="0" stroke="#333" stroke-width="0.12" text-anchor="end" fill="#333" font-size="6.720000000000001" textLength="35.01" lengthAdjust="spacingAndGlyphs" transform="translate(347.35,245.40) rotate(-45)" >sgScrambled</text>
<rect x="352.10" y="214.11" width="6.70" height="20.79" fill="#5c1a6b" />
<line x1="355.45" y1="197.53" x2="355.45" y2="214.11" stroke="#333" stroke-width="0.8" />
<line x1="353.78" y1="197.53" x2="357.13" y2="197.53" stroke="#333" stroke-width="0.8" />
<line x1="355.45" y1="234.90" x2="355.45" y2="237.20" stroke="#333" stroke-width="0.8" />
<text x="0" y="0" stroke="#333" stroke-width="0.12" text-anchor="end" fill="#333" font-size="6.720000000000001" textLength="26.34" lengthAdjust="spacingAndGlyphs" transform="translate(358.05,245.40) rotate(-45)" >sgInt1-NT</text>
<rect x="362.10" y="206.24" width="7.00" height="28.66" fill="#9a8cc6" />
<line x1="365.60" y1="187.97" x2="365.60" y2="206.24" stroke="#333" stroke-width="0.8" />
<line x1="363.85" y1="187.97" x2="367.35" y2="187.97" stroke="#333" stroke-width="0.8" />
<line x1="365.60" y1="234.90" x2="365.60" y2="237.20" stroke="#333" stroke-width="0.8" />
<text x="0" y="0" stroke="#333" stroke-width="0.12" text-anchor="end" fill="#333" font-size="6.720000000000001" textLength="25.34" lengthAdjust="spacingAndGlyphs" transform="translate(368.20,245.40) rotate(-45)" >sgSX E-1</text>
<rect x="372.90" y="220.01" width="6.90" height="14.89" fill="#3d4b5b" />
<line x1="376.35" y1="207.92" x2="376.35" y2="220.01" stroke="#333" stroke-width="0.8" />
<line x1="374.62" y1="207.92" x2="378.08" y2="207.92" stroke="#333" stroke-width="0.8" />
<line x1="376.35" y1="234.90" x2="376.35" y2="237.20" stroke="#333" stroke-width="0.8" />
<text x="0" y="0" stroke="#333" stroke-width="0.12" text-anchor="end" fill="#333" font-size="6.720000000000001" textLength="25.34" lengthAdjust="spacingAndGlyphs" transform="translate(378.95,245.40) rotate(-45)" >sgSX E-2</text>
<text x="0" y="0" stroke="#222" stroke-width="0.45" text-anchor="middle" font-size="7.0" textLength="44.40" lengthAdjust="spacingAndGlyphs" transform="translate(183.30,205.20) rotate(-90)" >mRNA expression</text>
<text x="0" y="0" stroke="#222" stroke-width="0.45" text-anchor="middle" font-size="7.0" textLength="37.00" lengthAdjust="spacingAndGlyphs" transform="translate(193.30,205.50) rotate(-90)" >(relative units)</text>
<text x="410.80" y="143.20" font-weight="bold" fill="#000" font-size="10.2" >E</text>
<text x="448.40" y="156.79" stroke="#222" stroke-width="0.12" font-size="8.3" textLength="40.30" lengthAdjust="spacingAndGlyphs" >K562 Cells</text>
<text x="455.30" y="167.15" stroke="#222" stroke-width="0.12" font-style="italic" font-size="8.2" textLength="26.50" lengthAdjust="spacingAndGlyphs" >TTLL12</text>
<line x1="447.60" y1="173.15" x2="447.60" y2="235.70" stroke="#222" stroke-width="1.1" />
<line x1="444.70" y1="235.20" x2="447.60" y2="235.20" stroke="#222" stroke-width="0.9" />
<text x="442.40" y="237.18" stroke="#333" stroke-width="0.15" text-anchor="end" fill="#333" font-size="6.0" >0</text>
<line x1="444.70" y1="215.85" x2="447.60" y2="215.85" stroke="#222" stroke-width="0.9" />
<text x="442.40" y="217.83" stroke="#333" stroke-width="0.15" text-anchor="end" fill="#333" font-size="6.0" >0.5</text>
<line x1="444.70" y1="196.50" x2="447.60" y2="196.50" stroke="#222" stroke-width="0.9" />
<text x="442.40" y="198.48" stroke="#333" stroke-width="0.15" text-anchor="end" fill="#333" font-size="6.0" >1.0</text>
<line x1="444.70" y1="177.15" x2="447.60" y2="177.15" stroke="#222" stroke-width="0.9" />
<text x="442.40" y="179.13" stroke="#333" stroke-width="0.15" text-anchor="end" fill="#333" font-size="6.0" >1.5</text>
<line x1="447.60" y1="235.20" x2="489.70" y2="235.20" stroke="#222" stroke-width="1.1" />
<rect x="451.80" y="196.50" width="6.50" height="38.70" fill="#b4c487" />
<line x1="455.05" y1="192.24" x2="455.05" y2="196.50" stroke="#333" stroke-width="0.8" />
<line x1="453.43" y1="192.24" x2="456.68" y2="192.24" stroke="#333" stroke-width="0.8" />
<line x1="455.05" y1="235.20" x2="455.05" y2="237.50" stroke="#333" stroke-width="0.8" />
<text x="0" y="0" stroke="#333" stroke-width="0.12" text-anchor="end" fill="#333" font-size="6.720000000000001" textLength="35.01" lengthAdjust="spacingAndGlyphs" transform="translate(457.65,245.70) rotate(-45)" >sgScrambled</text>
<rect x="461.10" y="198.05" width="6.70" height="37.15" fill="#5c1a6b" />
<line x1="464.45" y1="196.50" x2="464.45" y2="198.05" stroke="#333" stroke-width="0.8" />
<line x1="462.78" y1="196.50" x2="466.13" y2="196.50" stroke="#333" stroke-width="0.8" />
<line x1="464.45" y1="235.20" x2="464.45" y2="237.50" stroke="#333" stroke-width="0.8" />
<text x="0" y="0" stroke="#333" stroke-width="0.12" text-anchor="end" fill="#333" font-size="6.720000000000001" textLength="26.34" lengthAdjust="spacingAndGlyphs" transform="translate(467.05,245.70) rotate(-45)" >sgInt1-NT</text>
<rect x="471.20" y="227.65" width="6.70" height="7.55" fill="#2aa6df" />
<line x1="474.55" y1="226.49" x2="474.55" y2="227.65" stroke="#333" stroke-width="0.8" />
<line x1="472.87" y1="226.49" x2="476.22" y2="226.49" stroke="#333" stroke-width="0.8" />
<line x1="474.55" y1="235.20" x2="474.55" y2="237.50" stroke="#333" stroke-width="0.8" />
<text x="0" y="0" stroke="#333" stroke-width="0.12" text-anchor="end" fill="#333" font-size="6.720000000000001" textLength="27.68" lengthAdjust="spacingAndGlyphs" transform="translate(477.15,245.70) rotate(-45)" >sgT12 E-1</text>
<rect x="481.00" y="224.36" width="6.90" height="10.84" fill="#e5177c" />
<line x1="484.45" y1="222.43" x2="484.45" y2="224.36" stroke="#333" stroke-width="0.8" />
<line x1="482.73" y1="222.43" x2="486.17" y2="222.43" stroke="#333" stroke-width="0.8" />
<line x1="484.45" y1="235.20" x2="484.45" y2="237.50" stroke="#333" stroke-width="0.8" />
<text x="0" y="0" stroke="#333" stroke-width="0.12" text-anchor="end" fill="#333" font-size="6.720000000000001" textLength="27.68" lengthAdjust="spacingAndGlyphs" transform="translate(487.05,245.70) rotate(-45)" >sgT12 E-2</text>
<line x1="455.10" y1="176.30" x2="484.50" y2="176.30" stroke="#333" stroke-width="1.1" />
<text x="469.80" y="176.10" stroke="#333" stroke-width="0.12" text-anchor="middle" fill="#333" font-size="5.8" >****</text>
<line x1="465.70" y1="186.10" x2="484.50" y2="186.10" stroke="#333" stroke-width="1.1" />
<text x="475.10" y="185.90" stroke="#333" stroke-width="0.12" text-anchor="middle" fill="#333" font-size="5.8" >***</text>
<line x1="474.60" y1="176.30" x2="474.60" y2="177.70" stroke="#444" stroke-width="0.8" />
<line x1="484.50" y1="176.30" x2="484.50" y2="177.70" stroke="#444" stroke-width="0.8" />
<line x1="474.60" y1="186.10" x2="474.60" y2="187.50" stroke="#444" stroke-width="0.8" />
<line x1="484.50" y1="186.10" x2="484.50" y2="187.50" stroke="#444" stroke-width="0.8" />
<text x="0" y="0" stroke="#222" stroke-width="0.45" text-anchor="middle" font-size="7.0" textLength="45.60" lengthAdjust="spacingAndGlyphs" transform="translate(418.20,204.20) rotate(-90)" >mRNA expression</text>
<text x="0" y="0" stroke="#222" stroke-width="0.45" text-anchor="middle" font-size="7.0" textLength="37.40" lengthAdjust="spacingAndGlyphs" transform="translate(427.00,205.30) rotate(-90)" >(relative units)</text>
<text x="7.30" y="289.90" font-weight="bold" fill="#000" font-size="10.2" >F</text>
<text x="42.70" y="297.48" stroke="#222" stroke-width="0.12" font-size="8.0" textLength="40.00" lengthAdjust="spacingAndGlyphs" >K562 Cells</text>
<text x="53.70" y="310.99" stroke="#333" stroke-width="0.12" font-style="italic" fill="#333" font-size="5.8" textLength="19.20" lengthAdjust="spacingAndGlyphs" >TRAK2</text>
<line x1="43.60" y1="313.05" x2="43.60" y2="375.30" stroke="#222" stroke-width="1.1" />
<line x1="40.70" y1="374.80" x2="43.60" y2="374.80" stroke="#222" stroke-width="0.9" />
<text x="37.80" y="376.85" stroke="#333" stroke-width="0.15" text-anchor="end" fill="#333" font-size="6.2" >0</text>
<line x1="40.70" y1="363.25" x2="43.60" y2="363.25" stroke="#222" stroke-width="0.9" />
<text x="37.80" y="365.30" stroke="#333" stroke-width="0.15" text-anchor="end" fill="#333" font-size="6.2" >0.5</text>
<line x1="40.70" y1="351.70" x2="43.60" y2="351.70" stroke="#222" stroke-width="0.9" />
<text x="37.80" y="353.75" stroke="#333" stroke-width="0.15" text-anchor="end" fill="#333" font-size="6.2" >1.0</text>
<line x1="40.70" y1="340.15" x2="43.60" y2="340.15" stroke="#222" stroke-width="0.9" />
<text x="37.80" y="342.20" stroke="#333" stroke-width="0.15" text-anchor="end" fill="#333" font-size="6.2" >1.5</text>
<line x1="40.70" y1="328.60" x2="43.60" y2="328.60" stroke="#222" stroke-width="0.9" />
<text x="37.80" y="330.65" stroke="#333" stroke-width="0.15" text-anchor="end" fill="#333" font-size="6.2" >2.0</text>
<line x1="40.70" y1="317.05" x2="43.60" y2="317.05" stroke="#222" stroke-width="0.9" />
<text x="37.80" y="319.10" stroke="#333" stroke-width="0.15" text-anchor="end" fill="#333" font-size="6.2" >2.5</text>
<line x1="43.60" y1="374.80" x2="81.60" y2="374.80" stroke="#222" stroke-width="1.1" />
<rect x="46.20" y="351.70" width="5.80" height="23.10" fill="#b4c487" />
<line x1="49.10" y1="350.08" x2="49.10" y2="351.70" stroke="#333" stroke-width="0.8" />
<line x1="47.65" y1="350.08" x2="50.55" y2="350.08" stroke="#333" stroke-width="0.8" />
<line x1="49.10" y1="374.80" x2="49.10" y2="377.10" stroke="#333" stroke-width="0.8" />
<text x="0" y="0" stroke="#333" stroke-width="0.12" text-anchor="end" fill="#333" font-size="6.720000000000001" textLength="35.01" lengthAdjust="spacingAndGlyphs" transform="translate(51.70,385.30) rotate(-45)" >sgScrambled</text>
<rect x="55.10" y="331.83" width="5.80" height="42.97" fill="#5c1a6b" />
<line x1="58.00" y1="328.60" x2="58.00" y2="331.83" stroke="#333" stroke-width="0.8" />
<line x1="56.55" y1="328.60" x2="59.45" y2="328.60" stroke="#333" stroke-width="0.8" />
<line x1="58.00" y1="374.80" x2="58.00" y2="377.10" stroke="#333" stroke-width="0.8" />
<text x="0" y="0" stroke="#333" stroke-width="0.12" text-anchor="end" fill="#333" font-size="6.720000000000001" textLength="26.34" lengthAdjust="spacingAndGlyphs" transform="translate(60.60,385.30) rotate(-45)" >sgInt1-NT</text>
<rect x="64.00" y="332.30" width="5.80" height="42.50" fill="#dd7a26" />
<line x1="66.90" y1="328.60" x2="66.90" y2="332.30" stroke="#333" stroke-width="0.8" />
<line x1="65.45" y1="328.60" x2="68.35" y2="328.60" stroke="#333" stroke-width="0.8" />
<line x1="66.90" y1="374.80" x2="66.90" y2="377.10" stroke="#333" stroke-width="0.8" />
<text x="0" y="0" stroke="#333" stroke-width="0.12" text-anchor="end" fill="#333" font-size="6.720000000000001" textLength="27.68" lengthAdjust="spacingAndGlyphs" transform="translate(69.50,385.30) rotate(-45)" >sgT12 E-1</text>
<rect x="73.00" y="337.84" width="5.70" height="36.96" fill="#6b3b12" />
<line x1="75.85" y1="332.30" x2="75.85" y2="337.84" stroke="#333" stroke-width="0.8" />
<line x1="74.42" y1="332.30" x2="77.27" y2="332.30" stroke="#333" stroke-width="0.8" />
<line x1="75.85" y1="374.80" x2="75.85" y2="377.10" stroke="#333" stroke-width="0.8" />
<text x="0" y="0" stroke="#333" stroke-width="0.12" text-anchor="end" fill="#333" font-size="6.720000000000001" textLength="27.68" lengthAdjust="spacingAndGlyphs" transform="translate(78.45,385.30) rotate(-45)" >sgT12 E-2</text>
<text x="0" y="0" stroke="#222" stroke-width="0.45" text-anchor="middle" font-size="7.0" textLength="44.40" lengthAdjust="spacingAndGlyphs" transform="translate(13.50,344.80) rotate(-90)" >mRNA expression</text>
<text x="0" y="0" stroke="#222" stroke-width="0.45" text-anchor="middle" font-size="7.0" textLength="36.90" lengthAdjust="spacingAndGlyphs" transform="translate(22.80,344.50) rotate(-90)" >(relative units)</text>
<text x="106.30" y="290.00" font-weight="bold" fill="#000" font-size="10.2" >G</text>
<text x="144.30" y="285.95" stroke="#222" stroke-width="0.12" font-size="6.8" textLength="26.80" lengthAdjust="spacingAndGlyphs" >HUDEP-2</text>
<line x1="137.40" y1="288.20" x2="178.40" y2="288.20" stroke="#444" stroke-width="1.0" />
<text x="146.90" y="296.35" stroke="#222" stroke-width="0.12" font-size="6.8" textLength="20.80" lengthAdjust="spacingAndGlyphs" >SSX2IP</text>
<line x1="138.00" y1="312.05" x2="138.00" y2="375.50" stroke="#222" stroke-width="1.1" />
<line x1="135.10" y1="375.00" x2="138.00" y2="375.00" stroke="#222" stroke-width="0.9" />
<text x="132.70" y="376.98" stroke="#333" stroke-width="0.15" text-anchor="end" fill="#333" font-size="6.0" >0.0</text>
<line x1="135.10" y1="355.35" x2="138.00" y2="355.35" stroke="#222" stroke-width="0.9" />
<text x="132.70" y="357.33" stroke="#333" stroke-width="0.15" text-anchor="end" fill="#333" font-size="6.0" >0.5</text>
<line x1="135.10" y1="335.70" x2="138.00" y2="335.70" stroke="#222" stroke-width="0.9" />
<text x="132.70" y="337.68" stroke="#333" stroke-width="0.15" text-anchor="end" fill="#333" font-size="6.0" >1.0</text>
<line x1="135.10" y1="316.05" x2="138.00" y2="316.05" stroke="#222" stroke-width="0.9" />
<text x="132.70" y="318.03" stroke="#333" stroke-width="0.15" text-anchor="end" fill="#333" font-size="6.0" >1.5</text>
<line x1="138.00" y1="375.00" x2="177.80" y2="375.00" stroke="#222" stroke-width="1.1" />
<rect x="141.60" y="335.70" width="6.30" height="39.30" fill="#b4c487" />
<line x1="144.75" y1="332.16" x2="144.75" y2="335.70" stroke="#333" stroke-width="0.8" />
<line x1="143.18" y1="332.16" x2="146.32" y2="332.16" stroke="#333" stroke-width="0.8" />
<line x1="144.75" y1="375.00" x2="144.75" y2="377.30" stroke="#333" stroke-width="0.8" />
<text x="0" y="0" stroke="#333" stroke-width="0.12" text-anchor="end" fill="#333" font-size="6.720000000000001" textLength="35.01" lengthAdjust="spacingAndGlyphs" transform="translate(147.35,385.50) rotate(-45)" >sgScrambled</text>
<rect x="150.50" y="330.20" width="6.10" height="44.80" fill="#5c1a6b" />
<line x1="153.55" y1="325.48" x2="153.55" y2="330.20" stroke="#333" stroke-width="0.8" />
<line x1="152.03" y1="325.48" x2="155.08" y2="325.48" stroke="#333" stroke-width="0.8" />
<line x1="153.55" y1="375.00" x2="153.55" y2="377.30" stroke="#333" stroke-width="0.8" />
<text x="0" y="0" stroke="#333" stroke-width="0.12" text-anchor="end" fill="#333" font-size="6.720000000000001" textLength="26.34" lengthAdjust="spacingAndGlyphs" transform="translate(156.15,385.50) rotate(-45)" >sgInt1-NT</text>
<rect x="160.20" y="373.04" width="4.20" height="1.96" fill="#9a8cc6" />
<line x1="162.30" y1="372.64" x2="162.30" y2="373.04" stroke="#333" stroke-width="0.8" />
<line x1="161.25" y1="372.64" x2="163.35" y2="372.64" stroke="#333" stroke-width="0.8" />
<line x1="162.30" y1="375.00" x2="162.30" y2="377.30" stroke="#333" stroke-width="0.8" />
<text x="0" y="0" stroke="#333" stroke-width="0.12" text-anchor="end" fill="#333" font-size="6.720000000000001" textLength="29.35" lengthAdjust="spacingAndGlyphs" transform="translate(164.90,385.50) rotate(-45)" >sgSSX E-1</text>
<rect x="168.90" y="369.50" width="5.90" height="5.50" fill="#3d4b5b" />
<line x1="171.85" y1="368.91" x2="171.85" y2="369.50" stroke="#333" stroke-width="0.8" />
<line x1="170.38" y1="368.91" x2="173.33" y2="368.91" stroke="#333" stroke-width="0.8" />
<line x1="171.85" y1="375.00" x2="171.85" y2="377.30" stroke="#333" stroke-width="0.8" />
<text x="0" y="0" stroke="#333" stroke-width="0.12" text-anchor="end" fill="#333" font-size="6.720000000000001" textLength="29.35" lengthAdjust="spacingAndGlyphs" transform="translate(174.45,385.50) rotate(-45)" >sgSSX E-2</text>
<line x1="143.40" y1="305.30" x2="170.00" y2="305.30" stroke="#333" stroke-width="1.1" />
<text x="156.70" y="305.10" stroke="#333" stroke-width="0.12" text-anchor="middle" fill="#333" font-size="5.8" >***</text>
<line x1="153.80" y1="316.60" x2="170.00" y2="316.60" stroke="#333" stroke-width="1.1" />
<text x="161.90" y="316.40" stroke="#333" stroke-width="0.12" text-anchor="middle" fill="#333" font-size="5.8" >****</text>
<line x1="162.30" y1="305.30" x2="162.30" y2="306.70" stroke="#444" stroke-width="0.8" />
<line x1="170.00" y1="305.30" x2="170.00" y2="306.70" stroke="#444" stroke-width="0.8" />
<line x1="162.30" y1="316.60" x2="162.30" y2="318.00" stroke="#444" stroke-width="0.8" />
<line x1="170.00" y1="316.60" x2="170.00" y2="318.00" stroke="#444" stroke-width="0.8" />
<line x1="144.00" y1="321.70" x2="154.00" y2="321.70" stroke="#444" stroke-width="0.95" />
<text x="149.00" y="320.30" stroke="#333" stroke-width="0.12" text-anchor="middle" fill="#333" font-size="5.4" >ns</text>
<text x="0" y="0" stroke="#222" stroke-width="0.45" text-anchor="middle" font-size="7.0" textLength="44.30" lengthAdjust="spacingAndGlyphs" transform="translate(107.00,343.90) rotate(-90)" >mRNA expression</text>
<text x="0" y="0" stroke="#222" stroke-width="0.45" text-anchor="middle" font-size="7.0" textLength="36.40" lengthAdjust="spacingAndGlyphs" transform="translate(119.40,343.80) rotate(-90)" >(relative units)</text>
<text x="196.20" y="290.20" font-weight="bold" fill="#000" font-size="10.2" >H</text>
<text x="281.00" y="287.46" stroke="#222" stroke-width="0.12" font-size="7.4" textLength="53.60" lengthAdjust="spacingAndGlyphs" ><tspan font-style="italic">Ssx2ip</tspan> Intron 1</text>
<line x1="240.40" y1="292.40" x2="375.70" y2="292.40" stroke="#333" stroke-width="1.0" />
<text x="211.20" y="301.60" stroke="#333" stroke-width="0.12" fill="#333" font-size="6.6" textLength="17.71" lengthAdjust="spacingAndGlyphs" >Mouse</text>
<text x="240.00" y="301.50" font-weight="bold" font-family="Liberation Mono" fill="#111" font-size="6.3" textLength="136.08" lengthAdjust="spacingAndGlyphs" >GTTCTCCATCTGTACAGGGAAGATAAT-AGGTCCAG</text>
<text x="211.20" y="308.73" stroke="#333" stroke-width="0.12" fill="#333" font-size="6.6" textLength="19.02" lengthAdjust="spacingAndGlyphs" >Human</text>
<text x="240.00" y="308.63" font-weight="bold" font-family="Liberation Mono" fill="#111" font-size="6.3" textLength="136.08" lengthAdjust="spacingAndGlyphs" >TTTCCCCAACTGTACAGGGAAGATAA-AAAGCTCAT</text>
<text x="211.20" y="315.86" stroke="#333" stroke-width="0.12" fill="#333" font-size="6.6" textLength="17.05" lengthAdjust="spacingAndGlyphs" >Chimp</text>
<text x="240.00" y="315.76" font-weight="bold" font-family="Liberation Mono" fill="#111" font-size="6.3" textLength="136.08" lengthAdjust="spacingAndGlyphs" >TTTCCCCAACTGTACAGGGAAGATAA-AAAGCTCAT</text>
<text x="211.20" y="322.99" stroke="#333" stroke-width="0.12" fill="#333" font-size="6.6" textLength="20.00" lengthAdjust="spacingAndGlyphs" >Rhesus</text>
<text x="240.00" y="322.89" font-weight="bold" font-family="Liberation Mono" fill="#111" font-size="6.3" textLength="136.08" lengthAdjust="spacingAndGlyphs" >GTTCCCCAGCTGTACAGGGAAGATAATAAAGCTCAT</text>
<text x="211.20" y="330.12" stroke="#333" stroke-width="0.12" fill="#333" font-size="6.6" textLength="13.45" lengthAdjust="spacingAndGlyphs" >Sloth</text>
<text x="240.00" y="330.02" font-weight="bold" font-family="Liberation Mono" fill="#111" font-size="6.3" textLength="136.08" lengthAdjust="spacingAndGlyphs" >TTTCCCCATCTGTGCAATGAAGATAATAAAGCTCTG</text>
<text x="211.20" y="337.25" stroke="#333" stroke-width="0.12" fill="#333" font-size="6.6" textLength="17.06" lengthAdjust="spacingAndGlyphs" >Sheep</text>
<text x="240.00" y="337.15" font-weight="bold" font-family="Liberation Mono" fill="#111" font-size="6.3" textLength="136.08" lengthAdjust="spacingAndGlyphs" >---CCCCATCTGTACAATGAAGATAATCATGGCCCA</text>
<text x="211.20" y="344.38" stroke="#333" stroke-width="0.12" fill="#333" font-size="6.6" textLength="20.01" lengthAdjust="spacingAndGlyphs" >Dolphin</text>
<text x="240.00" y="344.28" font-weight="bold" font-family="Liberation Mono" fill="#111" font-size="6.3" textLength="136.08" lengthAdjust="spacingAndGlyphs" >---CCCCATCTGTACAATGAAGATAATAAAGGCCCA</text>
<text x="211.20" y="351.51" stroke="#333" stroke-width="0.12" fill="#333" font-size="6.6" textLength="24.59" lengthAdjust="spacingAndGlyphs" >Zebrafish</text>
<text x="240.00" y="351.41" font-weight="bold" font-family="Liberation Mono" fill="#111" font-size="6.3" textLength="136.08" lengthAdjust="spacingAndGlyphs" >AGTGTATACGTGTACAGGGAAGATAAAAGGCAATCT</text>
<rect x="262.6" y="295.3" width="23.2" height="57.2" fill="none" stroke="#c8506a" stroke-width="0.8"/>
<rect x="315.4" y="294.9" width="24.3" height="58.2" fill="none" stroke="#c8506a" stroke-width="0.8"/>
<text x="246.70" y="366.46" stroke="#222" stroke-width="0.12" font-size="7.4" textLength="143.80" lengthAdjust="spacingAndGlyphs" ><tspan font-style="italic">Ssx2ip</tspan> Heterozygous Mouse G1E Clone</text>
<line x1="246.70" y1="367.80" x2="390.50" y2="367.80" stroke="#333" stroke-width="0.7" />
<text x="208.00" y="382.18" stroke="#333" stroke-width="0.12" fill="#333" font-size="6.6" textLength="20.80" lengthAdjust="spacingAndGlyphs" >Allele 1:</text>
<text x="208.00" y="397.58" stroke="#333" stroke-width="0.12" fill="#333" font-size="6.6" textLength="20.80" lengthAdjust="spacingAndGlyphs" >Allele 2:</text>
<text x="237.50" y="382.10" font-weight="bold" font-family="Liberation Mono" fill="#111" font-size="6.3" textLength="136.08" lengthAdjust="spacingAndGlyphs" >TGTTCTC<tspan fill="#d42a3c">CATCTGTACAGGGAAGATAA</tspan>TAGGTCCAG</text>
<text x="237.50" y="397.30" font-weight="bold" font-family="Liberation Mono" fill="#111" font-size="6.3" textLength="162.54" lengthAdjust="spacingAndGlyphs" >TGTTCTC<tspan fill="#d42a3c">CATCTGTACAGGG-------</tspan>(32bps)--CCACAGC</text>
<rect x="314.8" y="375.9" width="25.3" height="22.1" fill="none" stroke="#c8506a" stroke-width="0.8"/>
<line x1="448.20" y1="306.55" x2="448.20" y2="375.10" stroke="#222" stroke-width="1.1" />
<line x1="445.30" y1="374.60" x2="448.20" y2="374.60" stroke="#222" stroke-width="0.9" />
<text x="442.60" y="376.58" stroke="#333" stroke-width="0.15" text-anchor="end" fill="#333" font-size="6.0" >0</text>
<line x1="445.30" y1="353.25" x2="448.20" y2="353.25" stroke="#222" stroke-width="0.9" />
<text x="442.60" y="355.23" stroke="#333" stroke-width="0.15" text-anchor="end" fill="#333" font-size="6.0" >0.5</text>
<line x1="445.30" y1="331.90" x2="448.20" y2="331.90" stroke="#222" stroke-width="0.9" />
<text x="442.60" y="333.88" stroke="#333" stroke-width="0.15" text-anchor="end" fill="#333" font-size="6.0" >1.0</text>
<line x1="445.30" y1="310.55" x2="448.20" y2="310.55" stroke="#222" stroke-width="0.9" />
<text x="442.60" y="312.53" stroke="#333" stroke-width="0.15" text-anchor="end" fill="#333" font-size="6.0" >1.5</text>
<line x1="448.20" y1="374.60" x2="513.00" y2="374.60" stroke="#222" stroke-width="1.1" />
<rect x="453.50" y="331.90" width="9.70" height="42.70" fill="#f5b50c" />
<line x1="458.35" y1="325.07" x2="458.35" y2="331.90" stroke="#333" stroke-width="0.8" />
<line x1="455.93" y1="325.07" x2="460.78" y2="325.07" stroke="#333" stroke-width="0.8" />
<line x1="458.35" y1="374.60" x2="458.35" y2="376.90" stroke="#333" stroke-width="0.8" />
<rect x="467.90" y="373.11" width="9.70" height="1.49" fill="#0f5e3c" />
<line x1="472.75" y1="372.68" x2="472.75" y2="373.11" stroke="#333" stroke-width="0.8" />
<line x1="470.32" y1="372.68" x2="475.18" y2="372.68" stroke="#333" stroke-width="0.8" />
<line x1="472.75" y1="374.60" x2="472.75" y2="376.90" stroke="#333" stroke-width="0.8" />
<rect x="483.40" y="354.10" width="9.70" height="20.50" fill="#f5b50c" />
<line x1="488.25" y1="351.54" x2="488.25" y2="354.10" stroke="#333" stroke-width="0.8" />
<line x1="485.82" y1="351.54" x2="490.68" y2="351.54" stroke="#333" stroke-width="0.8" />
<line x1="488.25" y1="374.60" x2="488.25" y2="376.90" stroke="#333" stroke-width="0.8" />
<rect x="498.20" y="371.18" width="9.70" height="3.42" fill="#0f5e3c" />
<line x1="503.05" y1="370.76" x2="503.05" y2="371.18" stroke="#333" stroke-width="0.8" />
<line x1="500.62" y1="370.76" x2="505.47" y2="370.76" stroke="#333" stroke-width="0.8" />
<line x1="503.05" y1="374.60" x2="503.05" y2="376.90" stroke="#333" stroke-width="0.8" />
<line x1="458.20" y1="310.50" x2="487.30" y2="310.50" stroke="#777" stroke-width="1.5" />
<text x="472.75" y="310.30" stroke="#333" stroke-width="0.12" text-anchor="middle" fill="#333" font-size="5.8" >**</text>
<line x1="458.20" y1="319.10" x2="473.70" y2="319.10" stroke="#777" stroke-width="1.5" />
<text x="465.95" y="318.90" stroke="#333" stroke-width="0.12" text-anchor="middle" fill="#333" font-size="5.8" >***</text>
<line x1="487.70" y1="319.10" x2="503.10" y2="319.10" stroke="#777" stroke-width="1.5" />
<text x="495.40" y="318.90" stroke="#333" stroke-width="0.12" text-anchor="middle" fill="#333" font-size="5.8" >***</text>
<text x="458.50" y="386.98" stroke="#222" stroke-width="0.12" text-anchor="middle" font-size="6.6" textLength="10.30" lengthAdjust="spacingAndGlyphs" >+RT</text>
<text x="473.30" y="386.98" stroke="#222" stroke-width="0.12" text-anchor="middle" font-size="6.6" textLength="10.30" lengthAdjust="spacingAndGlyphs" >−RT</text>
<text x="488.00" y="386.98" stroke="#222" stroke-width="0.12" text-anchor="middle" font-size="6.6" textLength="10.30" lengthAdjust="spacingAndGlyphs" >+RT</text>
<text x="503.50" y="386.98" stroke="#222" stroke-width="0.12" text-anchor="middle" font-size="6.6" textLength="10.30" lengthAdjust="spacingAndGlyphs" >−RT</text>
<line x1="454.20" y1="391.00" x2="479.30" y2="391.00" stroke="#777" stroke-width="1.5" />
<line x1="483.60" y1="391.00" x2="508.70" y2="391.00" stroke="#777" stroke-width="1.5" />
<text x="466.50" y="401.46" stroke="#222" stroke-width="0.35" text-anchor="middle" font-size="7.4" textLength="17.60" lengthAdjust="spacingAndGlyphs" >Allele 1</text>
<text x="496.60" y="401.46" stroke="#222" stroke-width="0.35" text-anchor="middle" font-size="7.4" textLength="17.60" lengthAdjust="spacingAndGlyphs" >Allele 2</text>
<text x="0" y="0" stroke="#222" stroke-width="0.45" text-anchor="middle" font-size="7.0" textLength="64.00" lengthAdjust="spacingAndGlyphs" transform="translate(418.40,341.30) rotate(-90)" ><tspan font-style="italic">Ssx2ip</tspan> primary transcript</text>
<text x="0" y="0" stroke="#222" stroke-width="0.45" text-anchor="middle" font-size="7.0" textLength="36.00" lengthAdjust="spacingAndGlyphs" transform="translate(429.00,342.00) rotate(-90)" >(relative units)</text>
<text x="9.00" y="430.50" font-weight="bold" fill="#000" font-size="10.2" >I</text>
<rect x="48.75" y="432.00" width="4.45" height="4.40" fill="#b4c487" />
<text x="55.50" y="436.42" stroke="#333" stroke-width="0.12" fill="#333" font-size="5.9" textLength="34.00" lengthAdjust="spacingAndGlyphs" >sgScrambled</text>
<rect x="96.25" y="432.00" width="4.45" height="4.40" fill="#5c1a6b" />
<text x="103.00" y="436.42" stroke="#333" stroke-width="0.12" fill="#333" font-size="5.9" textLength="52.40" lengthAdjust="spacingAndGlyphs" >sgInt1-Non Targeted</text>
<rect x="161.00" y="432.00" width="4.60" height="4.40" fill="#f4910c" />
<text x="169.20" y="436.42" stroke="#333" stroke-width="0.12" fill="#333" font-size="5.9" textLength="35.40" lengthAdjust="spacingAndGlyphs" >sg<tspan font-style="italic">SSX2IP</tspan>-E-1</text>
<rect x="212.30" y="432.00" width="4.60" height="4.40" fill="#0e4f86" />
<text x="220.00" y="436.42" stroke="#333" stroke-width="0.12" fill="#333" font-size="5.9" textLength="37.00" lengthAdjust="spacingAndGlyphs" >sg<tspan font-style="italic">SSX2IP</tspan>-E-2</text>
<line x1="43.90" y1="433.68" x2="43.90" y2="506.30" stroke="#222" stroke-width="1.1" />
<line x1="41.00" y1="505.80" x2="43.90" y2="505.80" stroke="#222" stroke-width="0.9" />
<text x="38.20" y="507.78" stroke="#333" stroke-width="0.15" text-anchor="end" fill="#333" font-size="6.0" >0.0</text>
<line x1="41.00" y1="491.88" x2="43.90" y2="491.88" stroke="#222" stroke-width="0.9" />
<text x="38.20" y="493.86" stroke="#333" stroke-width="0.15" text-anchor="end" fill="#333" font-size="6.0" >0.5</text>
<line x1="41.00" y1="477.95" x2="43.90" y2="477.95" stroke="#222" stroke-width="0.9" />
<text x="38.20" y="479.93" stroke="#333" stroke-width="0.15" text-anchor="end" fill="#333" font-size="6.0" >1.0</text>
<line x1="41.00" y1="464.02" x2="43.90" y2="464.02" stroke="#222" stroke-width="0.9" />
<text x="38.20" y="466.00" stroke="#333" stroke-width="0.15" text-anchor="end" fill="#333" font-size="6.0" >1.5</text>
<line x1="41.00" y1="450.10" x2="43.90" y2="450.10" stroke="#222" stroke-width="0.9" />
<text x="38.20" y="452.08" stroke="#333" stroke-width="0.15" text-anchor="end" fill="#333" font-size="6.0" >2.0</text>
<line x1="41.00" y1="436.18" x2="43.90" y2="436.18" stroke="#222" stroke-width="0.9" />
<text x="38.20" y="438.16" stroke="#333" stroke-width="0.15" text-anchor="end" fill="#333" font-size="6.0" >2.5</text>
<line x1="43.50" y1="505.80" x2="261.40" y2="505.80" stroke="#222" stroke-width="1.1" />
<rect x="47.50" y="477.95" width="6.20" height="27.85" fill="#b4c487" />
<line x1="50.60" y1="472.38" x2="50.60" y2="477.95" stroke="#333" stroke-width="0.8" />
<line x1="49.05" y1="472.38" x2="52.15" y2="472.38" stroke="#333" stroke-width="0.8" />
<rect x="56.70" y="477.95" width="6.20" height="27.85" fill="#5c1a6b" />
<line x1="59.80" y1="476.00" x2="59.80" y2="477.95" stroke="#333" stroke-width="0.8" />
<line x1="58.25" y1="476.00" x2="61.35" y2="476.00" stroke="#333" stroke-width="0.8" />
<rect x="66.00" y="477.95" width="6.20" height="27.85" fill="#f4910c" />
<line x1="69.10" y1="470.99" x2="69.10" y2="477.95" stroke="#333" stroke-width="0.8" />
<line x1="67.55" y1="470.99" x2="70.65" y2="470.99" stroke="#333" stroke-width="0.8" />
<rect x="75.30" y="477.95" width="6.20" height="27.85" fill="#0e4f86" />
<line x1="78.40" y1="469.04" x2="78.40" y2="477.95" stroke="#333" stroke-width="0.8" />
<line x1="76.85" y1="469.04" x2="79.95" y2="469.04" stroke="#333" stroke-width="0.8" />
<line x1="64.50" y1="505.80" x2="64.50" y2="508.10" stroke="#333" stroke-width="0.8" />
<rect x="91.25" y="505.24" width="6.20" height="0.56" fill="#b4c487" />
<line x1="94.35" y1="504.96" x2="94.35" y2="505.24" stroke="#333" stroke-width="0.8" />
<line x1="92.80" y1="504.96" x2="95.90" y2="504.96" stroke="#333" stroke-width="0.8" />
<rect x="100.45" y="504.96" width="6.20" height="0.84" fill="#5c1a6b" />
<line x1="103.55" y1="504.69" x2="103.55" y2="504.96" stroke="#333" stroke-width="0.8" />
<line x1="102.00" y1="504.69" x2="105.10" y2="504.69" stroke="#333" stroke-width="0.8" />
<rect x="109.75" y="503.85" width="6.20" height="1.95" fill="#f4910c" />
<line x1="112.85" y1="502.74" x2="112.85" y2="503.85" stroke="#333" stroke-width="0.8" />
<line x1="111.30" y1="502.74" x2="114.40" y2="502.74" stroke="#333" stroke-width="0.8" />
<rect x="119.05" y="504.69" width="6.20" height="1.11" fill="#0e4f86" />
<line x1="122.15" y1="504.41" x2="122.15" y2="504.69" stroke="#333" stroke-width="0.8" />
<line x1="120.60" y1="504.41" x2="123.70" y2="504.41" stroke="#333" stroke-width="0.8" />
<line x1="108.25" y1="505.80" x2="108.25" y2="508.10" stroke="#333" stroke-width="0.8" />
<rect x="135.00" y="487.42" width="6.20" height="18.38" fill="#b4c487" />
<line x1="138.10" y1="484.08" x2="138.10" y2="487.42" stroke="#333" stroke-width="0.8" />
<line x1="136.55" y1="484.08" x2="139.65" y2="484.08" stroke="#333" stroke-width="0.8" />
<rect x="144.20" y="491.32" width="6.20" height="14.48" fill="#5c1a6b" />
<line x1="147.30" y1="489.09" x2="147.30" y2="491.32" stroke="#333" stroke-width="0.8" />
<line x1="145.75" y1="489.09" x2="148.85" y2="489.09" stroke="#333" stroke-width="0.8" />
<rect x="153.50" y="494.94" width="6.20" height="10.86" fill="#f4910c" />
<line x1="156.60" y1="491.88" x2="156.60" y2="494.94" stroke="#333" stroke-width="0.8" />
<line x1="155.05" y1="491.88" x2="158.15" y2="491.88" stroke="#333" stroke-width="0.8" />
<rect x="162.80" y="499.39" width="6.20" height="6.41" fill="#0e4f86" />
<line x1="165.90" y1="497.44" x2="165.90" y2="499.39" stroke="#333" stroke-width="0.8" />
<line x1="164.35" y1="497.44" x2="167.45" y2="497.44" stroke="#333" stroke-width="0.8" />
<line x1="152.00" y1="505.80" x2="152.00" y2="508.10" stroke="#333" stroke-width="0.8" />
<rect x="178.75" y="498.84" width="6.20" height="6.96" fill="#b4c487" />
<line x1="181.85" y1="496.61" x2="181.85" y2="498.84" stroke="#333" stroke-width="0.8" />
<line x1="180.30" y1="496.61" x2="183.40" y2="496.61" stroke="#333" stroke-width="0.8" />
<rect x="187.95" y="499.12" width="6.20" height="6.68" fill="#5c1a6b" />
<line x1="191.05" y1="496.61" x2="191.05" y2="499.12" stroke="#333" stroke-width="0.8" />
<line x1="189.50" y1="496.61" x2="192.60" y2="496.61" stroke="#333" stroke-width="0.8" />
<rect x="197.25" y="501.07" width="6.20" height="4.73" fill="#f4910c" />
<line x1="200.35" y1="498.84" x2="200.35" y2="501.07" stroke="#333" stroke-width="0.8" />
<line x1="198.80" y1="498.84" x2="201.90" y2="498.84" stroke="#333" stroke-width="0.8" />
<rect x="206.55" y="504.96" width="6.20" height="0.84" fill="#0e4f86" />
<line x1="209.65" y1="504.69" x2="209.65" y2="504.96" stroke="#333" stroke-width="0.8" />
<line x1="208.10" y1="504.69" x2="211.20" y2="504.69" stroke="#333" stroke-width="0.8" />
<line x1="195.75" y1="505.80" x2="195.75" y2="508.10" stroke="#333" stroke-width="0.8" />
<rect x="222.50" y="464.02" width="6.20" height="41.78" fill="#b4c487" />
<line x1="225.60" y1="460.68" x2="225.60" y2="464.02" stroke="#333" stroke-width="0.8" />
<line x1="224.05" y1="460.68" x2="227.15" y2="460.68" stroke="#333" stroke-width="0.8" />
<rect x="231.70" y="472.94" width="6.20" height="32.86" fill="#5c1a6b" />
<line x1="234.80" y1="472.66" x2="234.80" y2="472.94" stroke="#333" stroke-width="0.8" />
<line x1="233.25" y1="472.66" x2="236.35" y2="472.66" stroke="#333" stroke-width="0.8" />
<rect x="241.00" y="475.17" width="6.20" height="30.63" fill="#f4910c" />
<line x1="244.10" y1="470.15" x2="244.10" y2="475.17" stroke="#333" stroke-width="0.8" />
<line x1="242.55" y1="470.15" x2="245.65" y2="470.15" stroke="#333" stroke-width="0.8" />
<rect x="250.30" y="456.51" width="6.20" height="49.29" fill="#0e4f86" />
<line x1="253.40" y1="448.71" x2="253.40" y2="456.51" stroke="#333" stroke-width="0.8" />
<line x1="251.85" y1="448.71" x2="254.95" y2="448.71" stroke="#333" stroke-width="0.8" />
<line x1="239.50" y1="505.80" x2="239.50" y2="508.10" stroke="#333" stroke-width="0.8" />
<line x1="137.00" y1="471.25" x2="166.25" y2="471.25" stroke="#333" stroke-width="1.1" />
<text x="151.62" y="471.05" stroke="#333" stroke-width="0.12" text-anchor="middle" fill="#333" font-size="5.8" >***</text>
<line x1="137.00" y1="479.25" x2="157.00" y2="479.25" stroke="#333" stroke-width="1.1" />
<text x="147.00" y="479.05" stroke="#333" stroke-width="0.12" text-anchor="middle" fill="#333" font-size="5.8" >**</text>
<line x1="181.25" y1="465.75" x2="210.50" y2="465.75" stroke="#333" stroke-width="1.1" />
<text x="195.88" y="465.55" stroke="#333" stroke-width="0.12" text-anchor="middle" fill="#333" font-size="5.8" >**</text>
<line x1="181.25" y1="479.50" x2="201.25" y2="479.50" stroke="#444" stroke-width="0.95" />
<text x="191.80" y="475.10" stroke="#333" stroke-width="0.12" text-anchor="middle" fill="#333" font-size="6.2" textLength="21.50" lengthAdjust="spacingAndGlyphs" ><tspan font-style="italic">P</tspan> = .054</text>
<text x="64.60" y="517.52" stroke="#222" stroke-width="0.12" text-anchor="middle" font-style="italic" font-size="7.0" textLength="17.10" lengthAdjust="spacingAndGlyphs" >ACTB</text>
<text x="64.60" y="525.42" stroke="#222" stroke-width="0.12" text-anchor="middle" font-size="7.0" textLength="23.90" lengthAdjust="spacingAndGlyphs" >promoter</text>
<text x="108.35" y="517.52" stroke="#222" stroke-width="0.12" text-anchor="middle" font-style="italic" font-size="7.0" textLength="20.20" lengthAdjust="spacingAndGlyphs" >Chr.12</text>
<text x="108.35" y="525.42" stroke="#222" stroke-width="0.12" text-anchor="middle" font-style="italic" font-size="7.0" textLength="42.80" lengthAdjust="spacingAndGlyphs" >heterochromatin</text>
<text x="152.10" y="517.52" stroke="#222" stroke-width="0.12" text-anchor="middle" font-style="italic" font-size="7.0" textLength="22.60" lengthAdjust="spacingAndGlyphs" >SSX2IP</text>
<text x="152.10" y="525.42" stroke="#222" stroke-width="0.12" text-anchor="middle" font-size="7.0" textLength="16.10" lengthAdjust="spacingAndGlyphs" >Enh A</text>
<text x="195.85" y="517.52" stroke="#222" stroke-width="0.12" text-anchor="middle" font-style="italic" font-size="7.0" textLength="24.30" lengthAdjust="spacingAndGlyphs" >SSX2IP</text>
<text x="195.85" y="525.42" stroke="#222" stroke-width="0.12" text-anchor="middle" font-size="7.0" textLength="16.40" lengthAdjust="spacingAndGlyphs" >Enh B</text>
<text x="239.60" y="517.52" stroke="#222" stroke-width="0.12" text-anchor="middle" font-style="italic" font-size="7.0" textLength="22.00" lengthAdjust="spacingAndGlyphs" >SSX2IP</text>
<text x="239.60" y="525.42" stroke="#222" stroke-width="0.12" text-anchor="middle" font-size="7.0" textLength="25.20" lengthAdjust="spacingAndGlyphs" >Promoter</text>
<text x="0" y="0" stroke="#222" stroke-width="0.45" text-anchor="middle" font-size="7.0" textLength="32.00" lengthAdjust="spacingAndGlyphs" transform="translate(13.30,469.50) rotate(-90)" >FAIRE signal</text>
<text x="0" y="0" stroke="#222" stroke-width="0.45" text-anchor="middle" font-size="7.0" textLength="36.30" lengthAdjust="spacingAndGlyphs" transform="translate(23.10,469.50) rotate(-90)" >(relative units)</text>
<text x="299.30" y="430.20" font-weight="bold" fill="#000" font-size="10.2" >J</text>
<rect x="342.50" y="432.00" width="5.00" height="4.60" fill="#b4c487" />
<text x="351.25" y="436.22" stroke="#333" stroke-width="0.12" fill="#333" font-size="5.9" textLength="31.75" lengthAdjust="spacingAndGlyphs" >sgScrambled</text>
<rect x="342.50" y="440.50" width="5.00" height="4.60" fill="#0e4f86" />
<text x="351.25" y="444.92" stroke="#333" stroke-width="0.12" fill="#333" font-size="5.9" textLength="35.75" lengthAdjust="spacingAndGlyphs" >sg<tspan font-style="italic">TTLL12</tspan>-E-2</text>
<rect x="393.50" y="431.80" width="5.30" height="4.80" fill="#5c1a6b" />
<text x="402.00" y="436.22" stroke="#333" stroke-width="0.12" fill="#333" font-size="5.9" textLength="50.20" lengthAdjust="spacingAndGlyphs" >sgInt1-Non Targeted</text>
<rect x="393.50" y="441.00" width="5.30" height="4.80" fill="#f4910c" />
<text x="402.00" y="445.82" stroke="#333" stroke-width="0.12" fill="#333" font-size="5.9" textLength="35.90" lengthAdjust="spacingAndGlyphs" >sg<tspan font-style="italic">TTLL12</tspan>-E-1</text>
<line x1="336.90" y1="432.85" x2="336.90" y2="506.60" stroke="#222" stroke-width="1.1" />
<line x1="334.00" y1="506.10" x2="336.90" y2="506.10" stroke="#222" stroke-width="0.9" />
<text x="331.60" y="508.08" stroke="#333" stroke-width="0.15" text-anchor="end" fill="#333" font-size="6.0" >0</text>
<line x1="334.00" y1="491.95" x2="336.90" y2="491.95" stroke="#222" stroke-width="0.9" />
<text x="331.60" y="493.93" stroke="#333" stroke-width="0.15" text-anchor="end" fill="#333" font-size="6.0" >0.5</text>
<line x1="334.00" y1="477.80" x2="336.90" y2="477.80" stroke="#222" stroke-width="0.9" />
<text x="331.60" y="479.78" stroke="#333" stroke-width="0.15" text-anchor="end" fill="#333" font-size="6.0" >1.0</text>
<line x1="334.00" y1="463.65" x2="336.90" y2="463.65" stroke="#222" stroke-width="0.9" />
<text x="331.60" y="465.63" stroke="#333" stroke-width="0.15" text-anchor="end" fill="#333" font-size="6.0" >1.5</text>
<line x1="334.00" y1="449.50" x2="336.90" y2="449.50" stroke="#222" stroke-width="0.9" />
<text x="331.60" y="451.48" stroke="#333" stroke-width="0.15" text-anchor="end" fill="#333" font-size="6.0" >2.0</text>
<line x1="334.00" y1="435.35" x2="336.90" y2="435.35" stroke="#222" stroke-width="0.9" />
<text x="331.60" y="437.33" stroke="#333" stroke-width="0.15" text-anchor="end" fill="#333" font-size="6.0" >2.5</text>
<line x1="336.50" y1="506.10" x2="513.30" y2="506.10" stroke="#222" stroke-width="1.1" />
<rect x="340.00" y="477.80" width="6.60" height="28.30" fill="#b4c487" />
<line x1="343.30" y1="469.31" x2="343.30" y2="477.80" stroke="#333" stroke-width="0.8" />
<line x1="341.65" y1="469.31" x2="344.95" y2="469.31" stroke="#333" stroke-width="0.8" />
<rect x="350.10" y="477.80" width="6.60" height="28.30" fill="#5c1a6b" />
<line x1="353.40" y1="449.50" x2="353.40" y2="477.80" stroke="#333" stroke-width="0.8" />
<line x1="351.75" y1="449.50" x2="355.05" y2="449.50" stroke="#333" stroke-width="0.8" />
<rect x="360.10" y="477.80" width="6.60" height="28.30" fill="#f4910c" />
<line x1="363.40" y1="471.29" x2="363.40" y2="477.80" stroke="#333" stroke-width="0.8" />
<line x1="361.75" y1="471.29" x2="365.05" y2="471.29" stroke="#333" stroke-width="0.8" />
<rect x="370.10" y="477.80" width="6.60" height="28.30" fill="#0e4f86" />
<line x1="373.40" y1="469.88" x2="373.40" y2="477.80" stroke="#333" stroke-width="0.8" />
<line x1="371.75" y1="469.88" x2="375.05" y2="469.88" stroke="#333" stroke-width="0.8" />
<line x1="358.35" y1="506.10" x2="358.35" y2="508.40" stroke="#333" stroke-width="0.8" />
<rect x="384.20" y="504.12" width="6.60" height="1.98" fill="#b4c487" />
<line x1="387.50" y1="503.84" x2="387.50" y2="504.12" stroke="#333" stroke-width="0.8" />
<line x1="385.85" y1="503.84" x2="389.15" y2="503.84" stroke="#333" stroke-width="0.8" />
<rect x="394.30" y="504.97" width="6.60" height="1.13" fill="#5c1a6b" />
<line x1="397.60" y1="504.40" x2="397.60" y2="504.97" stroke="#333" stroke-width="0.8" />
<line x1="395.95" y1="504.40" x2="399.25" y2="504.40" stroke="#333" stroke-width="0.8" />
<rect x="404.30" y="504.69" width="6.60" height="1.42" fill="#f4910c" />
<line x1="407.60" y1="504.40" x2="407.60" y2="504.69" stroke="#333" stroke-width="0.8" />
<line x1="405.95" y1="504.40" x2="409.25" y2="504.40" stroke="#333" stroke-width="0.8" />
<rect x="414.30" y="504.12" width="6.60" height="1.98" fill="#0e4f86" />
<line x1="417.60" y1="503.84" x2="417.60" y2="504.12" stroke="#333" stroke-width="0.8" />
<line x1="415.95" y1="503.84" x2="419.25" y2="503.84" stroke="#333" stroke-width="0.8" />
<line x1="402.55" y1="506.10" x2="402.55" y2="508.40" stroke="#333" stroke-width="0.8" />
<rect x="428.60" y="489.69" width="6.60" height="16.41" fill="#b4c487" />
<line x1="431.90" y1="485.72" x2="431.90" y2="489.69" stroke="#333" stroke-width="0.8" />
<line x1="430.25" y1="485.72" x2="433.55" y2="485.72" stroke="#333" stroke-width="0.8" />
<rect x="438.70" y="493.37" width="6.60" height="12.74" fill="#5c1a6b" />
<line x1="442.00" y1="487.71" x2="442.00" y2="493.37" stroke="#333" stroke-width="0.8" />
<line x1="440.35" y1="487.71" x2="443.65" y2="487.71" stroke="#333" stroke-width="0.8" />
<rect x="448.70" y="504.97" width="6.60" height="1.13" fill="#f4910c" />
<line x1="452.00" y1="504.69" x2="452.00" y2="504.97" stroke="#333" stroke-width="0.8" />
<line x1="450.35" y1="504.69" x2="453.65" y2="504.69" stroke="#333" stroke-width="0.8" />
<rect x="458.70" y="504.69" width="6.60" height="1.42" fill="#0e4f86" />
<line x1="462.00" y1="504.40" x2="462.00" y2="504.69" stroke="#333" stroke-width="0.8" />
<line x1="460.35" y1="504.40" x2="463.65" y2="504.40" stroke="#333" stroke-width="0.8" />
<line x1="446.95" y1="506.10" x2="446.95" y2="508.40" stroke="#333" stroke-width="0.8" />
<rect x="472.50" y="482.05" width="6.60" height="24.06" fill="#0e4f86" />
<line x1="475.80" y1="481.48" x2="475.80" y2="482.05" stroke="#333" stroke-width="0.8" />
<line x1="474.15" y1="481.48" x2="477.45" y2="481.48" stroke="#333" stroke-width="0.8" />
<rect x="482.60" y="485.44" width="6.60" height="20.66" fill="#5c1a6b" />
<line x1="485.90" y1="479.50" x2="485.90" y2="485.44" stroke="#333" stroke-width="0.8" />
<line x1="484.25" y1="479.50" x2="487.55" y2="479.50" stroke="#333" stroke-width="0.8" />
<rect x="492.60" y="502.42" width="6.60" height="3.68" fill="#f4910c" />
<line x1="495.90" y1="501.29" x2="495.90" y2="502.42" stroke="#333" stroke-width="0.8" />
<line x1="494.25" y1="501.29" x2="497.55" y2="501.29" stroke="#333" stroke-width="0.8" />
<rect x="502.60" y="501.86" width="6.60" height="4.25" fill="#0e4f86" />
<line x1="505.90" y1="501.57" x2="505.90" y2="501.86" stroke="#333" stroke-width="0.8" />
<line x1="504.25" y1="501.57" x2="507.55" y2="501.57" stroke="#333" stroke-width="0.8" />
<line x1="490.85" y1="506.10" x2="490.85" y2="508.40" stroke="#333" stroke-width="0.8" />
<line x1="432.50" y1="473.00" x2="461.30" y2="473.00" stroke="#333" stroke-width="1.1" />
<text x="446.90" y="472.80" stroke="#333" stroke-width="0.12" text-anchor="middle" fill="#333" font-size="5.8" >**</text>
<line x1="432.50" y1="480.80" x2="451.20" y2="480.80" stroke="#333" stroke-width="1.1" />
<text x="441.85" y="480.60" stroke="#333" stroke-width="0.12" text-anchor="middle" fill="#333" font-size="5.8" >**</text>
<line x1="475.80" y1="466.00" x2="505.60" y2="466.00" stroke="#333" stroke-width="1.1" />
<text x="490.70" y="465.80" stroke="#333" stroke-width="0.12" text-anchor="middle" fill="#333" font-size="5.8" >****</text>
<line x1="475.80" y1="474.40" x2="496.00" y2="474.40" stroke="#333" stroke-width="1.1" />
<text x="485.90" y="474.20" stroke="#333" stroke-width="0.12" text-anchor="middle" fill="#333" font-size="5.8" >****</text>
<text x="358.60" y="517.78" stroke="#222" stroke-width="0.12" text-anchor="middle" font-style="italic" font-size="6.9" textLength="15.70" lengthAdjust="spacingAndGlyphs" >ACTB</text>
<text x="358.60" y="525.32" stroke="#222" stroke-width="0.12" text-anchor="middle" font-size="7.0" textLength="24.10" lengthAdjust="spacingAndGlyphs" >promoter</text>
<text x="402.80" y="517.78" stroke="#222" stroke-width="0.12" text-anchor="middle" font-style="italic" font-size="6.9" textLength="18.20" lengthAdjust="spacingAndGlyphs" >Chr.12</text>
<text x="402.80" y="525.32" stroke="#222" stroke-width="0.12" text-anchor="middle" font-style="italic" font-size="7.0" textLength="42.70" lengthAdjust="spacingAndGlyphs" >heterochromatin</text>
<text x="446.90" y="517.78" stroke="#222" stroke-width="0.12" text-anchor="middle" font-style="italic" font-size="6.9" textLength="20.00" lengthAdjust="spacingAndGlyphs" >TTLL12</text>
<text x="446.90" y="525.32" stroke="#222" stroke-width="0.12" text-anchor="middle" font-size="7.0" textLength="15.00" lengthAdjust="spacingAndGlyphs" >Enh A</text>
<text x="491.20" y="517.78" stroke="#222" stroke-width="0.12" text-anchor="middle" font-style="italic" font-size="6.9" textLength="20.00" lengthAdjust="spacingAndGlyphs" >TTLL12</text>
<text x="491.20" y="525.32" stroke="#222" stroke-width="0.12" text-anchor="middle" font-size="7.0" textLength="15.70" lengthAdjust="spacingAndGlyphs" >Enh B</text>
<text x="0" y="0" stroke="#222" stroke-width="0.45" text-anchor="middle" font-size="7.0" textLength="32.00" lengthAdjust="spacingAndGlyphs" transform="translate(307.30,468.90) rotate(-90)" >FAIRE signal</text>
<text x="0" y="0" stroke="#222" stroke-width="0.45" text-anchor="middle" font-size="7.0" textLength="37.70" lengthAdjust="spacingAndGlyphs" transform="translate(317.50,469.50) rotate(-90)" >(relative units)</text>
<text x="73.25" y="545.50" font-weight="bold" fill="#000" font-size="10.2" >K</text>
<text x="120.00" y="552.66" stroke="#222" stroke-width="0.12" font-size="7.4" textLength="52.50" lengthAdjust="spacingAndGlyphs" ><tspan font-style="italic">SSX2IP</tspan>-Enh A</text>
<line x1="113.70" y1="563.50" x2="113.70" y2="628.90" stroke="#222" stroke-width="1.1" />
<line x1="110.80" y1="628.40" x2="113.70" y2="628.40" stroke="#222" stroke-width="0.9" />
<text x="109.10" y="630.41" stroke="#333" stroke-width="0.15" text-anchor="end" fill="#333" font-size="6.1" >0.00</text>
<line x1="110.80" y1="613.00" x2="113.70" y2="613.00" stroke="#222" stroke-width="0.9" />
<text x="109.10" y="615.01" stroke="#333" stroke-width="0.15" text-anchor="end" fill="#333" font-size="6.1" >0.01</text>
<line x1="110.80" y1="597.60" x2="113.70" y2="597.60" stroke="#222" stroke-width="0.9" />
<text x="109.10" y="599.61" stroke="#333" stroke-width="0.15" text-anchor="end" fill="#333" font-size="6.1" >0.02</text>
<line x1="110.80" y1="582.20" x2="113.70" y2="582.20" stroke="#222" stroke-width="0.9" />
<text x="109.10" y="584.21" stroke="#333" stroke-width="0.15" text-anchor="end" fill="#333" font-size="6.1" >0.03</text>
<line x1="110.80" y1="566.80" x2="113.70" y2="566.80" stroke="#222" stroke-width="0.9" />
<text x="109.10" y="568.81" stroke="#333" stroke-width="0.15" text-anchor="end" fill="#333" font-size="6.1" >0.04</text>
<line x1="113.30" y1="628.40" x2="249.80" y2="628.40" stroke="#222" stroke-width="1.1" />
<rect x="119.20" y="620.70" width="8.30" height="7.70" fill="#cf1434" />
<line x1="123.35" y1="616.85" x2="123.35" y2="620.70" stroke="#333" stroke-width="0.8" />
<line x1="121.27" y1="616.85" x2="125.42" y2="616.85" stroke="#333" stroke-width="0.8" />
<line x1="123.35" y1="628.40" x2="123.35" y2="630.70" stroke="#333" stroke-width="0.8" />
<text x="0" y="0" stroke="#333" stroke-width="0.12" text-anchor="end" fill="#333" font-size="7.168000000000001" textLength="10.31" lengthAdjust="spacingAndGlyphs" transform="translate(126.25,638.70) rotate(-45)" >IgG</text>
<rect x="132.00" y="588.36" width="8.00" height="40.04" fill="#cf1434" />
<line x1="136.00" y1="582.20" x2="136.00" y2="588.36" stroke="#333" stroke-width="0.8" />
<line x1="134.00" y1="582.20" x2="138.00" y2="582.20" stroke="#333" stroke-width="0.8" />
<line x1="136.00" y1="628.40" x2="136.00" y2="630.70" stroke="#333" stroke-width="0.8" />
<text x="0" y="0" stroke="#333" stroke-width="0.12" text-anchor="end" fill="#333" font-size="7.168000000000001" textLength="20.03" lengthAdjust="spacingAndGlyphs" transform="translate(138.90,638.70) rotate(-45)" >GATA1</text>
<rect x="152.10" y="619.16" width="8.10" height="9.24" fill="#144f8a" />
<line x1="156.15" y1="613.00" x2="156.15" y2="619.16" stroke="#333" stroke-width="0.8" />
<line x1="154.12" y1="613.00" x2="158.17" y2="613.00" stroke="#333" stroke-width="0.8" />
<line x1="156.15" y1="628.40" x2="156.15" y2="630.70" stroke="#333" stroke-width="0.8" />
<text x="0" y="0" stroke="#333" stroke-width="0.12" text-anchor="end" fill="#333" font-size="7.168000000000001" textLength="10.31" lengthAdjust="spacingAndGlyphs" transform="translate(159.05,638.70) rotate(-45)" >IgG</text>
<rect x="165.00" y="601.76" width="8.00" height="26.64" fill="#144f8a" />
<line x1="169.00" y1="598.37" x2="169.00" y2="601.76" stroke="#333" stroke-width="0.8" />
<line x1="167.00" y1="598.37" x2="171.00" y2="598.37" stroke="#333" stroke-width="0.8" />
<line x1="169.00" y1="628.40" x2="169.00" y2="630.70" stroke="#333" stroke-width="0.8" />
<text x="0" y="0" stroke="#333" stroke-width="0.12" text-anchor="end" fill="#333" font-size="7.168000000000001" textLength="20.03" lengthAdjust="spacingAndGlyphs" transform="translate(171.90,638.70) rotate(-45)" >GATA1</text>
<rect x="191.80" y="609.46" width="8.00" height="18.94" fill="#cf1434" />
<line x1="195.80" y1="607.61" x2="195.80" y2="609.46" stroke="#333" stroke-width="0.8" />
<line x1="193.80" y1="607.61" x2="197.80" y2="607.61" stroke="#333" stroke-width="0.8" />
<line x1="195.80" y1="628.40" x2="195.80" y2="630.70" stroke="#333" stroke-width="0.8" />
<text x="0" y="0" stroke="#333" stroke-width="0.12" text-anchor="end" fill="#333" font-size="7.168000000000001" textLength="10.31" lengthAdjust="spacingAndGlyphs" transform="translate(198.70,638.70) rotate(-45)" >IgG</text>
<rect x="204.00" y="591.44" width="8.20" height="36.96" fill="#cf1434" />
<line x1="208.10" y1="582.97" x2="208.10" y2="591.44" stroke="#333" stroke-width="0.8" />
<line x1="206.05" y1="582.97" x2="210.15" y2="582.97" stroke="#333" stroke-width="0.8" />
<line x1="208.10" y1="628.40" x2="208.10" y2="630.70" stroke="#333" stroke-width="0.8" />
<text x="0" y="0" stroke="#333" stroke-width="0.12" text-anchor="end" fill="#333" font-size="7.168000000000001" textLength="20.03" lengthAdjust="spacingAndGlyphs" transform="translate(211.00,638.70) rotate(-45)" >GATA1</text>
<rect x="224.70" y="608.38" width="7.90" height="20.02" fill="#144f8a" />
<line x1="228.65" y1="601.45" x2="228.65" y2="608.38" stroke="#333" stroke-width="0.8" />
<line x1="226.67" y1="601.45" x2="230.62" y2="601.45" stroke="#333" stroke-width="0.8" />
<line x1="228.65" y1="628.40" x2="228.65" y2="630.70" stroke="#333" stroke-width="0.8" />
<text x="0" y="0" stroke="#333" stroke-width="0.12" text-anchor="end" fill="#333" font-size="7.168000000000001" textLength="10.31" lengthAdjust="spacingAndGlyphs" transform="translate(231.55,638.70) rotate(-45)" >IgG</text>
<rect x="237.00" y="595.29" width="8.00" height="33.11" fill="#144f8a" />
<line x1="241.00" y1="592.21" x2="241.00" y2="595.29" stroke="#333" stroke-width="0.8" />
<line x1="239.00" y1="592.21" x2="243.00" y2="592.21" stroke="#333" stroke-width="0.8" />
<line x1="241.00" y1="628.40" x2="241.00" y2="630.70" stroke="#333" stroke-width="0.8" />
<text x="0" y="0" stroke="#333" stroke-width="0.12" text-anchor="end" fill="#333" font-size="7.168000000000001" textLength="20.03" lengthAdjust="spacingAndGlyphs" transform="translate(243.90,638.70) rotate(-45)" >GATA1</text>
<line x1="123.75" y1="577.00" x2="132.50" y2="577.00" stroke="#333" stroke-width="1.1" />
<text x="128.12" y="576.80" stroke="#333" stroke-width="0.12" text-anchor="middle" fill="#333" font-size="5.8" >**</text>
<line x1="136.25" y1="569.50" x2="168.75" y2="569.50" stroke="#333" stroke-width="1.1" />
<text x="152.50" y="569.30" stroke="#333" stroke-width="0.12" text-anchor="middle" fill="#333" font-size="5.8" >*</text>
<line x1="157.50" y1="577.00" x2="167.50" y2="577.00" stroke="#333" stroke-width="1.1" />
<text x="162.50" y="576.80" stroke="#333" stroke-width="0.12" text-anchor="middle" fill="#333" font-size="5.8" >*</text>
<line x1="182.80" y1="551.00" x2="182.80" y2="628.40" stroke="#555" stroke-width="0.8" stroke-dasharray="0.8 1.2"/>
<text x="223.00" y="542.44" stroke="#222" stroke-width="0.12" text-anchor="middle" font-size="7.6" textLength="23.70" lengthAdjust="spacingAndGlyphs" >Chr.12</text>
<text x="223.00" y="553.24" stroke="#222" stroke-width="0.12" text-anchor="middle" font-size="7.6" textLength="57.50" lengthAdjust="spacingAndGlyphs" >heterochromatin</text>
<text x="223.00" y="562.94" stroke="#222" stroke-width="0.12" text-anchor="middle" font-size="7.6" textLength="22.60" lengthAdjust="spacingAndGlyphs" >region</text>
<line x1="208.00" y1="576.80" x2="240.00" y2="576.80" stroke="#444" stroke-width="0.95" />
<text x="224.00" y="572.74" stroke="#333" stroke-width="0.12" text-anchor="middle" fill="#333" font-size="5.4" >ns</text>
<line x1="115.40" y1="656.10" x2="143.50" y2="656.10" stroke="#555" stroke-width="1.4" />
<line x1="149.20" y1="656.10" x2="180.80" y2="656.10" stroke="#555" stroke-width="1.4" />
<line x1="187.70" y1="656.10" x2="217.30" y2="656.10" stroke="#555" stroke-width="1.4" />
<line x1="222.50" y1="656.10" x2="250.00" y2="656.10" stroke="#555" stroke-width="1.4" />
<text x="110.80" y="666.48" stroke="#222" stroke-width="0.2" font-size="8.0" textLength="33.40" lengthAdjust="spacingAndGlyphs" >sgScrambled</text>
<text x="146.20" y="666.48" stroke="#222" stroke-width="0.2" font-size="8.0" textLength="35.80" lengthAdjust="spacingAndGlyphs" >sg<tspan font-style="italic">SSX2IP</tspan>-E-1</text>
<text x="186.50" y="666.48" stroke="#222" stroke-width="0.2" font-size="8.0" textLength="31.50" lengthAdjust="spacingAndGlyphs" >sgScrambled</text>
<text x="219.20" y="666.48" stroke="#222" stroke-width="0.2" font-size="8.0" textLength="31.80" lengthAdjust="spacingAndGlyphs" >sg<tspan font-style="italic">SSX2IP</tspan>-E-1</text>
<text x="0" y="0" stroke="#222" stroke-width="0.45" text-anchor="middle" font-size="7.0" textLength="44.70" lengthAdjust="spacingAndGlyphs" transform="translate(81.20,596.30) rotate(-90)" >GATA1 occupancy</text>
<text x="0" y="0" stroke="#222" stroke-width="0.45" text-anchor="middle" font-size="7.0" textLength="36.30" lengthAdjust="spacingAndGlyphs" transform="translate(92.10,596.40) rotate(-90)" >(relative units)</text>
<text x="309.50" y="552.66" stroke="#222" stroke-width="0.12" font-size="7.4" textLength="53.00" lengthAdjust="spacingAndGlyphs" ><tspan font-style="italic">SSX2IP</tspan>-Enh A</text>
<line x1="306.25" y1="562.20" x2="306.25" y2="628.80" stroke="#222" stroke-width="1.1" />
<line x1="303.35" y1="628.30" x2="306.25" y2="628.30" stroke="#222" stroke-width="0.9" />
<text x="301.65" y="630.31" stroke="#333" stroke-width="0.15" text-anchor="end" fill="#333" font-size="6.1" >0.00</text>
<line x1="303.35" y1="612.60" x2="306.25" y2="612.60" stroke="#222" stroke-width="0.9" />
<text x="301.65" y="614.61" stroke="#333" stroke-width="0.15" text-anchor="end" fill="#333" font-size="6.1" >0.02</text>
<line x1="303.35" y1="596.90" x2="306.25" y2="596.90" stroke="#222" stroke-width="0.9" />
<text x="301.65" y="598.91" stroke="#333" stroke-width="0.15" text-anchor="end" fill="#333" font-size="6.1" >0.04</text>
<line x1="303.35" y1="581.20" x2="306.25" y2="581.20" stroke="#222" stroke-width="0.9" />
<text x="301.65" y="583.21" stroke="#333" stroke-width="0.15" text-anchor="end" fill="#333" font-size="6.1" >0.06</text>
<line x1="303.35" y1="565.50" x2="306.25" y2="565.50" stroke="#222" stroke-width="0.9" />
<text x="301.65" y="567.51" stroke="#333" stroke-width="0.15" text-anchor="end" fill="#333" font-size="6.1" >0.08</text>
<line x1="305.85" y1="628.30" x2="440.80" y2="628.30" stroke="#222" stroke-width="1.1" />
<rect x="310.50" y="624.38" width="8.25" height="3.92" fill="#cf1434" />
<line x1="314.62" y1="622.02" x2="314.62" y2="624.38" stroke="#333" stroke-width="0.8" />
<line x1="312.56" y1="622.02" x2="316.69" y2="622.02" stroke="#333" stroke-width="0.8" />
<line x1="314.62" y1="628.30" x2="314.62" y2="630.60" stroke="#333" stroke-width="0.8" />
<text x="0" y="0" stroke="#333" stroke-width="0.12" text-anchor="end" fill="#333" font-size="7.168000000000001" textLength="10.31" lengthAdjust="spacingAndGlyphs" transform="translate(317.52,638.60) rotate(-45)" >IgG</text>
<rect x="323.00" y="586.69" width="8.25" height="41.61" fill="#cf1434" />
<line x1="327.12" y1="576.49" x2="327.12" y2="586.69" stroke="#333" stroke-width="0.8" />
<line x1="325.06" y1="576.49" x2="329.19" y2="576.49" stroke="#333" stroke-width="0.8" />
<line x1="327.12" y1="628.30" x2="327.12" y2="630.60" stroke="#333" stroke-width="0.8" />
<text x="0" y="0" stroke="#333" stroke-width="0.12" text-anchor="end" fill="#333" font-size="7.168000000000001" textLength="14.82" lengthAdjust="spacingAndGlyphs" transform="translate(330.02,638.60) rotate(-45)" >TAL1</text>
<rect x="343.75" y="623.59" width="8.25" height="4.71" fill="#144f8a" />
<line x1="347.88" y1="620.45" x2="347.88" y2="623.59" stroke="#333" stroke-width="0.8" />
<line x1="345.81" y1="620.45" x2="349.94" y2="620.45" stroke="#333" stroke-width="0.8" />
<line x1="347.88" y1="628.30" x2="347.88" y2="630.60" stroke="#333" stroke-width="0.8" />
<text x="0" y="0" stroke="#333" stroke-width="0.12" text-anchor="end" fill="#333" font-size="7.168000000000001" textLength="10.31" lengthAdjust="spacingAndGlyphs" transform="translate(350.77,638.60) rotate(-45)" >IgG</text>
<rect x="356.25" y="600.04" width="8.25" height="28.26" fill="#144f8a" />
<line x1="360.38" y1="593.76" x2="360.38" y2="600.04" stroke="#333" stroke-width="0.8" />
<line x1="358.31" y1="593.76" x2="362.44" y2="593.76" stroke="#333" stroke-width="0.8" />
<line x1="360.38" y1="628.30" x2="360.38" y2="630.60" stroke="#333" stroke-width="0.8" />
<text x="0" y="0" stroke="#333" stroke-width="0.12" text-anchor="end" fill="#333" font-size="7.168000000000001" textLength="14.82" lengthAdjust="spacingAndGlyphs" transform="translate(363.27,638.60) rotate(-45)" >TAL1</text>
<rect x="383.30" y="618.88" width="8.20" height="9.42" fill="#cf1434" />
<line x1="387.40" y1="618.09" x2="387.40" y2="618.88" stroke="#333" stroke-width="0.8" />
<line x1="385.35" y1="618.09" x2="389.45" y2="618.09" stroke="#333" stroke-width="0.8" />
<line x1="387.40" y1="628.30" x2="387.40" y2="630.60" stroke="#333" stroke-width="0.8" />
<text x="0" y="0" stroke="#333" stroke-width="0.12" text-anchor="end" fill="#333" font-size="7.168000000000001" textLength="10.31" lengthAdjust="spacingAndGlyphs" transform="translate(390.30,638.60) rotate(-45)" >IgG</text>
<rect x="395.75" y="613.38" width="8.15" height="14.91" fill="#cf1434" />
<line x1="399.82" y1="608.67" x2="399.82" y2="613.38" stroke="#333" stroke-width="0.8" />
<line x1="397.79" y1="608.67" x2="401.86" y2="608.67" stroke="#333" stroke-width="0.8" />
<line x1="399.82" y1="628.30" x2="399.82" y2="630.60" stroke="#333" stroke-width="0.8" />
<text x="0" y="0" stroke="#333" stroke-width="0.12" text-anchor="end" fill="#333" font-size="7.168000000000001" textLength="14.82" lengthAdjust="spacingAndGlyphs" transform="translate(402.72,638.60) rotate(-45)" >TAL1</text>
<rect x="416.10" y="618.49" width="8.20" height="9.81" fill="#144f8a" />
<line x1="420.20" y1="614.95" x2="420.20" y2="618.49" stroke="#333" stroke-width="0.8" />
<line x1="418.15" y1="614.95" x2="422.25" y2="614.95" stroke="#333" stroke-width="0.8" />
<line x1="420.20" y1="628.30" x2="420.20" y2="630.60" stroke="#333" stroke-width="0.8" />
<text x="0" y="0" stroke="#333" stroke-width="0.12" text-anchor="end" fill="#333" font-size="7.168000000000001" textLength="10.31" lengthAdjust="spacingAndGlyphs" transform="translate(423.10,638.60) rotate(-45)" >IgG</text>
<rect x="429.00" y="610.25" width="8.00" height="18.05" fill="#144f8a" />
<line x1="433.00" y1="607.10" x2="433.00" y2="610.25" stroke="#333" stroke-width="0.8" />
<line x1="431.00" y1="607.10" x2="435.00" y2="607.10" stroke="#333" stroke-width="0.8" />
<line x1="433.00" y1="628.30" x2="433.00" y2="630.60" stroke="#333" stroke-width="0.8" />
<text x="0" y="0" stroke="#333" stroke-width="0.12" text-anchor="end" fill="#333" font-size="7.168000000000001" textLength="14.82" lengthAdjust="spacingAndGlyphs" transform="translate(435.90,638.60) rotate(-45)" >TAL1</text>
<line x1="316.25" y1="575.00" x2="327.00" y2="575.00" stroke="#333" stroke-width="1.1" />
<text x="321.62" y="574.80" stroke="#333" stroke-width="0.12" text-anchor="middle" fill="#333" font-size="5.8" >**</text>
<line x1="327.50" y1="567.00" x2="361.25" y2="567.00" stroke="#333" stroke-width="1.1" />
<text x="344.38" y="566.80" stroke="#333" stroke-width="0.12" text-anchor="middle" fill="#333" font-size="5.8" >*</text>
<line x1="350.00" y1="575.00" x2="361.25" y2="575.00" stroke="#333" stroke-width="1.1" />
<text x="355.62" y="574.80" stroke="#333" stroke-width="0.12" text-anchor="middle" fill="#333" font-size="5.8" >*</text>
<line x1="373.50" y1="551.00" x2="373.50" y2="628.30" stroke="#555" stroke-width="0.8" stroke-dasharray="0.8 1.2"/>
<text x="412.30" y="542.44" stroke="#222" stroke-width="0.12" text-anchor="middle" font-size="7.6" textLength="23.70" lengthAdjust="spacingAndGlyphs" >Chr.12</text>
<text x="412.30" y="553.24" stroke="#222" stroke-width="0.12" text-anchor="middle" font-size="7.6" textLength="57.50" lengthAdjust="spacingAndGlyphs" >heterochromatin</text>
<text x="412.30" y="562.94" stroke="#222" stroke-width="0.12" text-anchor="middle" font-size="7.6" textLength="22.60" lengthAdjust="spacingAndGlyphs" >region</text>
<line x1="399.00" y1="574.00" x2="431.80" y2="574.00" stroke="#444" stroke-width="0.95" />
<text x="415.40" y="571.64" stroke="#333" stroke-width="0.12" text-anchor="middle" fill="#333" font-size="5.4" >ns</text>
<line x1="303.80" y1="651.90" x2="332.70" y2="651.90" stroke="#555" stroke-width="1.4" />
<line x1="337.70" y1="651.90" x2="372.30" y2="651.90" stroke="#555" stroke-width="1.4" />
<line x1="377.70" y1="651.90" x2="407.70" y2="651.90" stroke="#555" stroke-width="1.4" />
<line x1="413.50" y1="651.90" x2="445.00" y2="651.90" stroke="#555" stroke-width="1.4" />
<text x="303.80" y="662.48" stroke="#222" stroke-width="0.2" font-size="8.0" textLength="30.00" lengthAdjust="spacingAndGlyphs" >sgScrambled</text>
<text x="335.40" y="662.48" stroke="#222" stroke-width="0.2" font-size="8.0" textLength="36.90" lengthAdjust="spacingAndGlyphs" >sg<tspan font-style="italic">SSX2IP</tspan>-E-1</text>
<text x="377.00" y="662.48" stroke="#222" stroke-width="0.2" font-size="8.0" textLength="30.70" lengthAdjust="spacingAndGlyphs" >sgScrambled</text>
<text x="409.60" y="662.48" stroke="#222" stroke-width="0.2" font-size="8.0" textLength="34.60" lengthAdjust="spacingAndGlyphs" >sg<tspan font-style="italic">SSX2IP</tspan>-E-1</text>
<text x="0" y="0" stroke="#222" stroke-width="0.45" text-anchor="middle" font-size="7.0" textLength="41.00" lengthAdjust="spacingAndGlyphs" transform="translate(272.60,595.00) rotate(-90)" >TAL1 occupancy</text>
<text x="0" y="0" stroke="#222" stroke-width="0.45" text-anchor="middle" font-size="7.0" textLength="34.80" lengthAdjust="spacingAndGlyphs" transform="translate(283.50,595.60) rotate(-90)" >(relative units)</text>
<rect x="0.5" y="0.5" width="519" height="674" fill="none" stroke="#555" stroke-width="1.2"/>
</svg></body></html>
